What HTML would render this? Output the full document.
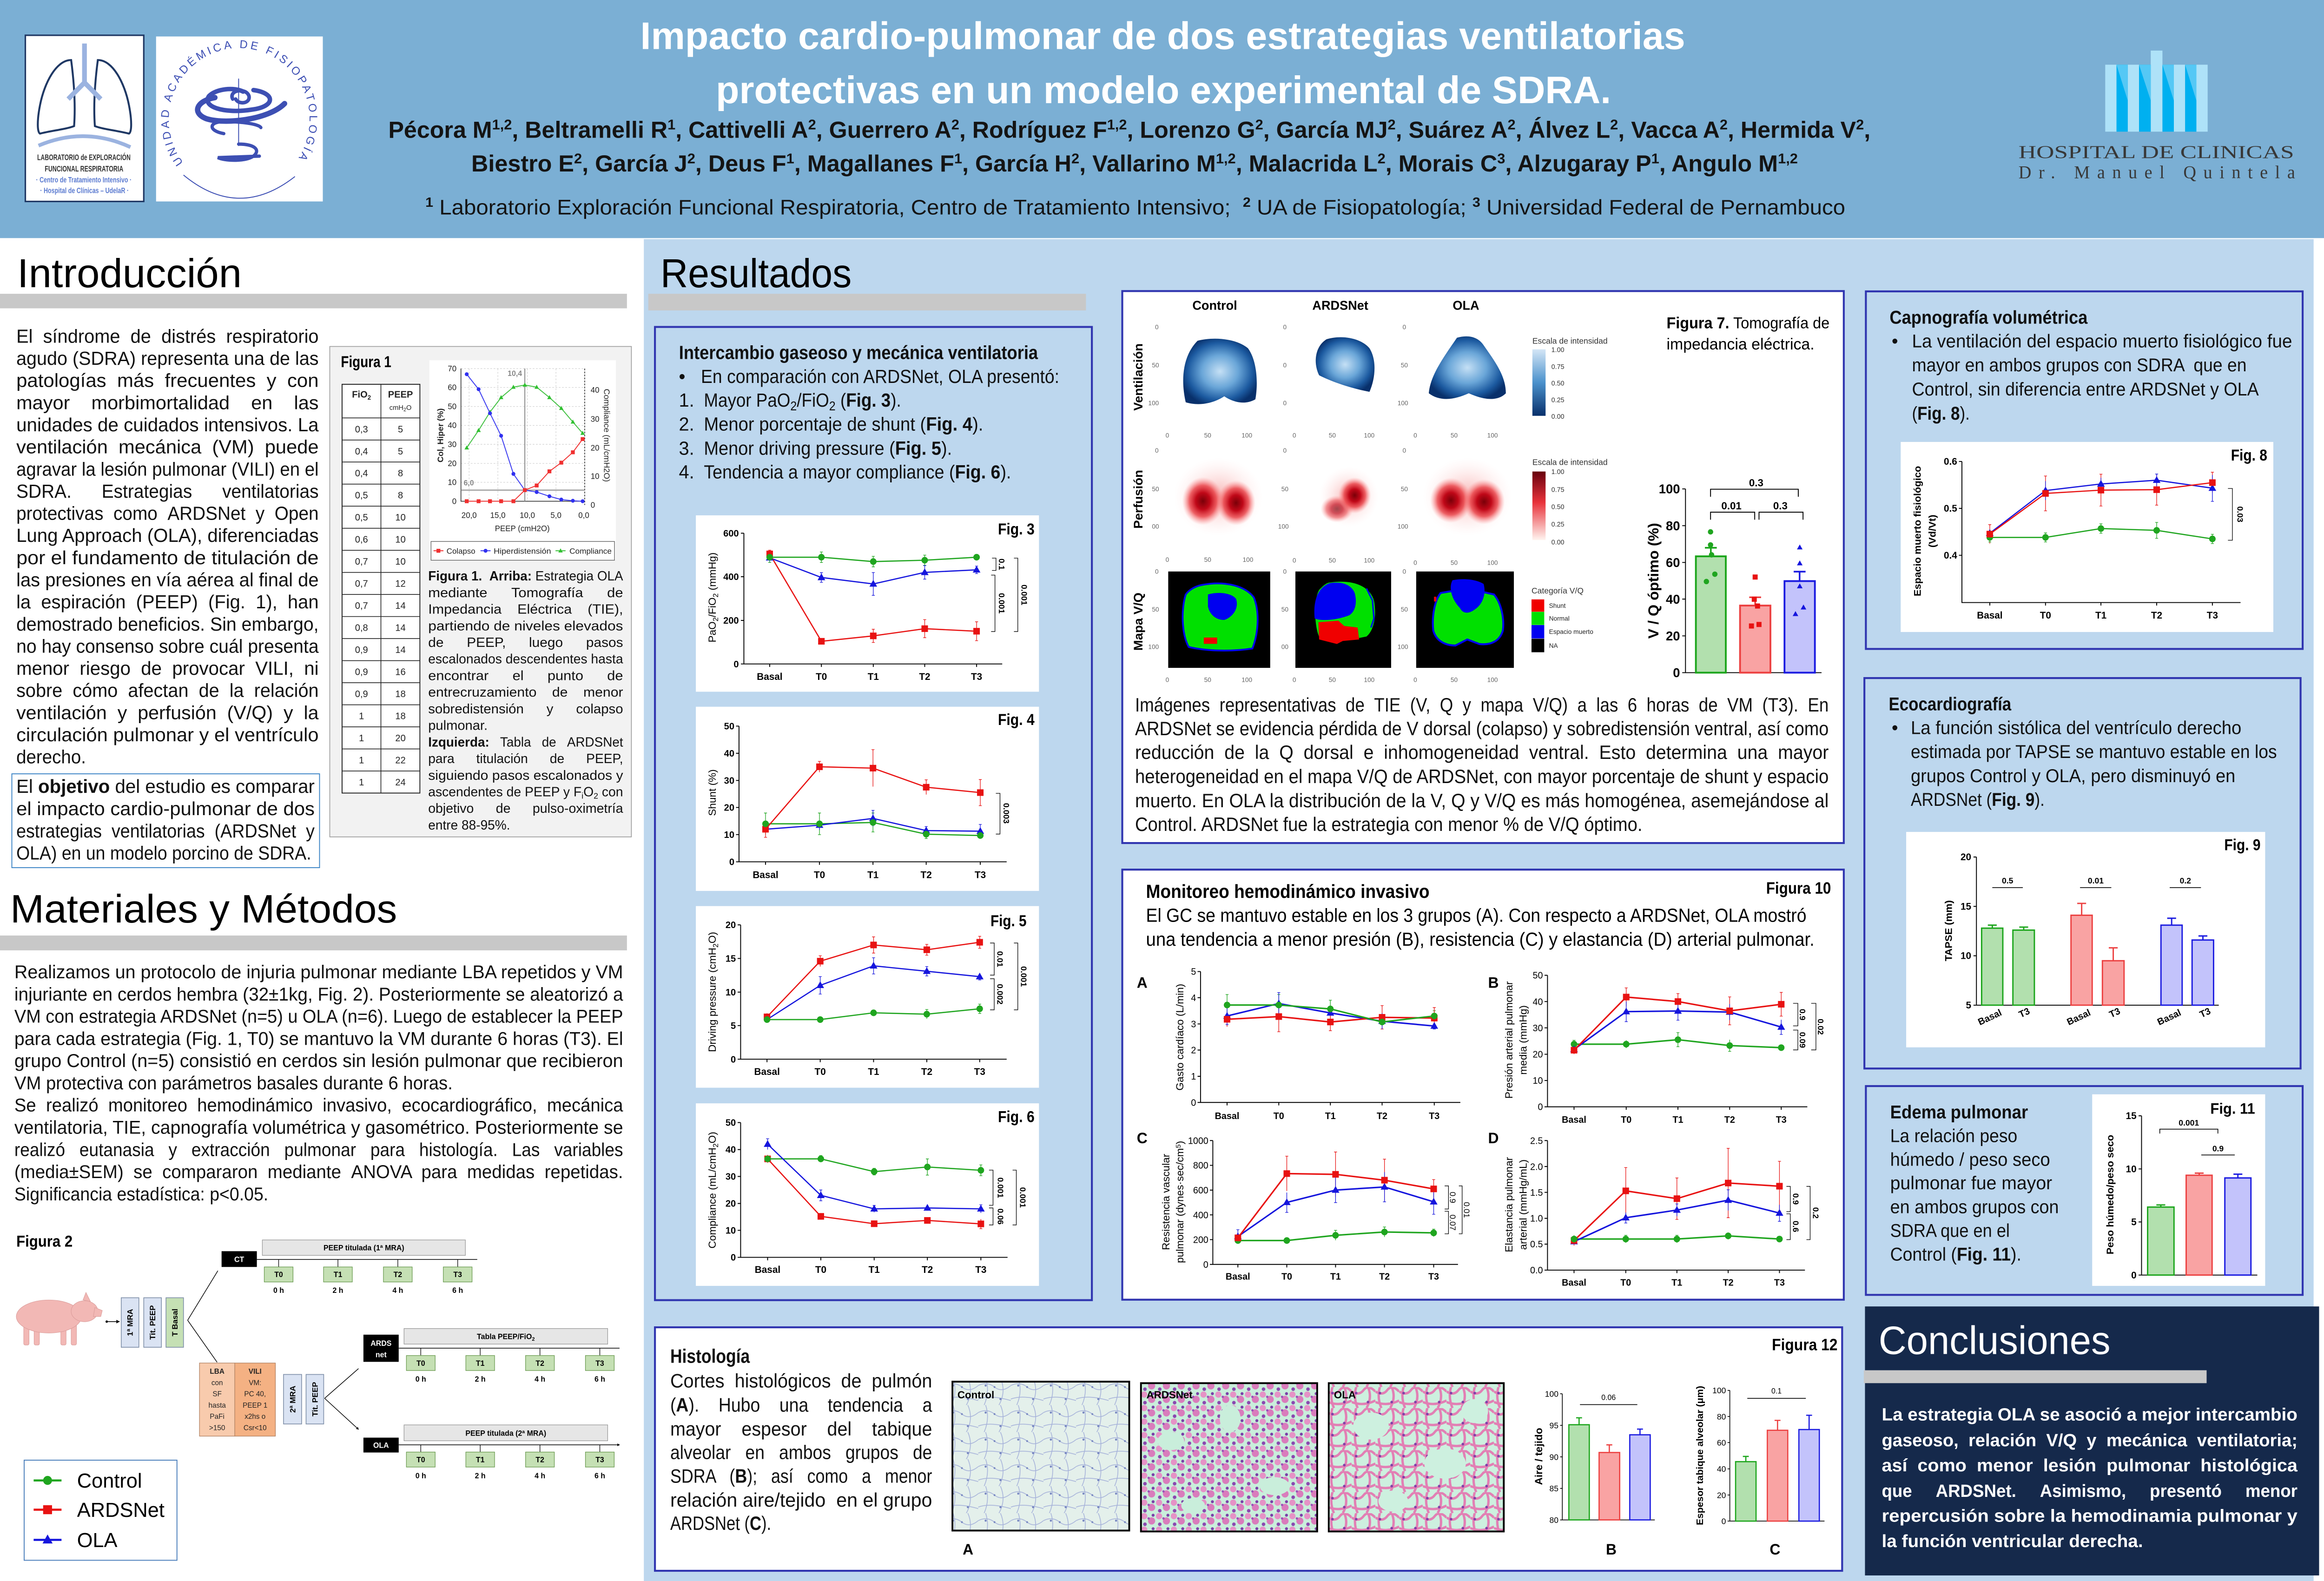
<!DOCTYPE html>
<html><head><meta charset="utf-8"><style>
html,body{margin:0;padding:0;background:#fff;overflow:hidden;}
svg{display:block;width:100vw;height:max(100vh,67.167vw);font-family:"Liberation Sans",sans-serif;}
.pre{white-space:pre;}
</style></head><body>
<svg xmlns="http://www.w3.org/2000/svg" width="5065" height="3402" viewBox="0 0 1568 1053.2" preserveAspectRatio="none" font-family="Liberation Sans, sans-serif">
<defs>
<circle id="g" r="2.2" fill="#1fa51f"/>
<rect id="r" x="-2.2" y="-2.2" width="4.4" height="4.4" fill="#e81212"/>
<path id="u" d="M0,-2.7L2.6,1.8H-2.6Z" fill="#1515dd"/>
<circle id="gs" r="1.3" fill="#30c030"/>
<rect id="rs" x="-1.3" y="-1.3" width="2.6" height="2.6" fill="#f03030"/>
<circle id="us" r="1.3" fill="#3030f0"/>
<path id="gt" d="M0,-1.6L1.5,1.1H-1.5Z" fill="#30c030"/>
<radialGradient id="vg" cx="50%" cy="50%" r="55%"><stop offset="0" stop-color="#c5e0f5"/><stop offset=".45" stop-color="#6aa6d8"/><stop offset=".8" stop-color="#1c5aa0"/><stop offset="1" stop-color="#08306b"/></radialGradient>
<radialGradient id="pg"><stop offset="0" stop-color="#7a0008"/><stop offset=".35" stop-color="#c00818"/><stop offset=".65" stop-color="#e83a40" stop-opacity=".8"/><stop offset="1" stop-color="#ff9090" stop-opacity="0"/></radialGradient>
<radialGradient id="ph"><stop offset="0" stop-color="#f49a9a" stop-opacity=".8"/><stop offset="1" stop-color="#ffe0e0" stop-opacity="0"/></radialGradient>
<linearGradient id="cb1" x1="0" y1="0" x2="0" y2="1"><stop offset="0" stop-color="#d4e6f6"/><stop offset=".5" stop-color="#4a91cc"/><stop offset="1" stop-color="#08306b"/></linearGradient>
<linearGradient id="cb2" x1="0" y1="0" x2="0" y2="1"><stop offset="0" stop-color="#67000d"/><stop offset=".45" stop-color="#e8323a"/><stop offset="1" stop-color="#fff5f0"/></linearGradient>
<pattern id="pc" width="22" height="18" patternUnits="userSpaceOnUse"><rect width="22" height="18" fill="#e4f0eb"/><path d="M0,5Q6,2 11,6T22,5M5,0Q8,9 4,18M15,0Q19,9 14,18M0,14Q8,11 22,15" stroke="#a7b3da" stroke-width=".5" fill="none"/><circle cx="5" cy="5" r=".7" fill="#7585c0"/><circle cx="15" cy="14" r=".7" fill="#7585c0"/><circle cx="11" cy="6" r=".6" fill="#7585c0"/></pattern>
<pattern id="pa" width="10" height="9" patternUnits="userSpaceOnUse"><rect width="10" height="9" fill="#c9eedb"/><circle cx="2" cy="2" r="2.1" fill="#e592c6"/><circle cx="7" cy="5.2" r="2.4" fill="#d97cbc"/><circle cx="2.5" cy="7.4" r="1.2" fill="#8a48b0"/><circle cx="8" cy="1.4" r="1" fill="#7a3fa8"/><circle cx="5" cy="3.5" r=".8" fill="#9a50b8"/></pattern>
<pattern id="po" width="16" height="14" patternUnits="userSpaceOnUse"><rect width="16" height="14" fill="#cdf0df"/><path d="M0,3Q5,6 8,2T16,3M3,0Q1,7 4,14M11,0Q14,7 10,14M0,10Q8,13 16,9" stroke="#e27fb4" stroke-width="1.6" fill="none"/><circle cx="3" cy="4" r=".9" fill="#8040a8"/><circle cx="11" cy="10" r=".9" fill="#8040a8"/></pattern>
<marker id="ah" viewBox="0 0 6 6" refX="5" refY="3" markerWidth="4" markerHeight="4" orient="auto"><path d="M0,0L6,3L0,6Z" fill="#000"/></marker>
</defs>

<!-- ================= HEADER ================= -->
<rect x="0" y="0" width="1568" height="158.6" fill="#7bafd4"/>
<rect x="17.1" y="23.5" width="79.9" height="110.7" fill="#fff" stroke="#1f3864" stroke-width="1"/>
<path d="M48,40C38,40 30,55 27,70C25,80 25,88 27,89C35,87 45,86 50,84C51,70 50,55 48,40Z" fill="none" stroke="#1f3864" stroke-width="1.3"/>
<path d="M66,40C76,40 84,55 87,70C89,80 89,88 87,89C79,87 69,86 64,84C63,70 64,55 66,40Z" fill="none" stroke="#1f3864" stroke-width="1.3"/>
<path d="M57,29V55M57,55L46,66M57,55L68,66" stroke="#9bb3e0" stroke-width="3.2" fill="none"/>
<path d="M26,97Q57,84 88,98" stroke="#9bb3e0" stroke-width="2.5" fill="none"/>
<text x="25.1" y="106.6" font-size="5.4" font-weight="bold" fill="#333" textLength="63" lengthAdjust="spacingAndGlyphs">LABORATORIO de EXPLORACIÓN</text>
<text x="30.2" y="114.3" font-size="5.4" font-weight="bold" fill="#333" textLength="53" lengthAdjust="spacingAndGlyphs">FUNCIONAL RESPIRATORIA</text>
<text x="24.3" y="121.5" font-size="5" font-weight="bold" fill="#5a7ad0" textLength="64.5" lengthAdjust="spacingAndGlyphs">· Centro de Tratamiento Intensivo ·</text>
<text x="27.1" y="128.7" font-size="5" font-weight="bold" fill="#5a7ad0" textLength="59.8" lengthAdjust="spacingAndGlyphs">· Hospital de Clínicas – UdelaR ·</text>
<rect x="105.3" y="24.3" width="112.5" height="109.9" fill="#fff"/>
<path id="arc" d="M123.7,108.4A47.5,47.5 0 1 1 199.1,108.4" fill="none"/>
<text font-size="7.5" fill="#3b4db3" letter-spacing="1.7"><textPath href="#arc">UNIDAD ACADÉMICA DE FISIOPATOLOGÍA</textPath></text>
<path d="M123.8,116.6Q161,147 199,117.6" stroke="#3b4db3" stroke-width=".6" fill="none"/>
<g stroke="#3d4fb3" fill="none" stroke-linecap="round">
<path d="M161,52.6V97" stroke-width=".6"/>
<path d="M157,66C154,60 166,58 168,64C169,69 161,70 159,66" stroke-width="2.4"/>
<path d="M171,60C186,62 186,71 170,73C151,76 136,71 141,64C146,59 158,58 164,61" stroke-width="3"/>
<path d="M192,69C181,80 151,83 139,79C129,75 133,67 145,65" stroke-width="3.6"/>
<path d="M151,89C140,87 141,81 151,81C165,81 175,83 176,85" stroke-width="2.2"/>
<path d="M161,96C172,96 176,100 171,104C165,108 151,107 147,105L175,104" stroke-width="2.2"/>
</g>
<text x="432" y="32.6" font-size="25.5" font-weight="bold" fill="#fff" textLength="705" lengthAdjust="spacingAndGlyphs">Impacto cardio-pulmonar de dos estrategias ventilatorias</text>
<text x="483" y="68.7" font-size="25.5" font-weight="bold" fill="#fff" textLength="604" lengthAdjust="spacingAndGlyphs">protectivas en un modelo experimental de SDRA.</text>
<text x="262" y="91.8" font-size="15.5" font-weight="bold" fill="#141414" textLength="1000" lengthAdjust="spacingAndGlyphs">Pécora M<tspan dy="-5.5" font-size="9.5">1,2</tspan><tspan dy="5.5">, Beltramelli R</tspan><tspan dy="-5.5" font-size="9.5">1</tspan><tspan dy="5.5">, Cattivelli A</tspan><tspan dy="-5.5" font-size="9.5">2</tspan><tspan dy="5.5">, Guerrero A</tspan><tspan dy="-5.5" font-size="9.5">2</tspan><tspan dy="5.5">, Rodríguez F</tspan><tspan dy="-5.5" font-size="9.5">1,2</tspan><tspan dy="5.5">, Lorenzo G</tspan><tspan dy="-5.5" font-size="9.5">2</tspan><tspan dy="5.5">, García MJ</tspan><tspan dy="-5.5" font-size="9.5">2</tspan><tspan dy="5.5">, Suárez A</tspan><tspan dy="-5.5" font-size="9.5">2</tspan><tspan dy="5.5">, Álvez L</tspan><tspan dy="-5.5" font-size="9.5">2</tspan><tspan dy="5.5">, Vacca A</tspan><tspan dy="-5.5" font-size="9.5">2</tspan><tspan dy="5.5">, Hermida V</tspan><tspan dy="-5.5" font-size="9.5">2</tspan><tspan dy="5.5">,</tspan></text>
<text x="318" y="114.3" font-size="15.5" font-weight="bold" fill="#141414" textLength="895" lengthAdjust="spacingAndGlyphs">Biestro E<tspan dy="-5.5" font-size="9.5">2</tspan><tspan dy="5.5">, García J</tspan><tspan dy="-5.5" font-size="9.5">2</tspan><tspan dy="5.5">, Deus F</tspan><tspan dy="-5.5" font-size="9.5">1</tspan><tspan dy="5.5">, Magallanes F</tspan><tspan dy="-5.5" font-size="9.5">1</tspan><tspan dy="5.5">, García H</tspan><tspan dy="-5.5" font-size="9.5">2</tspan><tspan dy="5.5">, Vallarino M</tspan><tspan dy="-5.5" font-size="9.5">1,2</tspan><tspan dy="5.5">, Malacrida L</tspan><tspan dy="-5.5" font-size="9.5">2</tspan><tspan dy="5.5">, Morais C</tspan><tspan dy="-5.5" font-size="9.5">3</tspan><tspan dy="5.5">, Alzugaray P</tspan><tspan dy="-5.5" font-size="9.5">1</tspan><tspan dy="5.5">, Angulo M</tspan><tspan dy="-5.5" font-size="9.5">1,2</tspan></text>
<text x="287" y="142.8" font-size="14" fill="#141414" textLength="958" lengthAdjust="spacingAndGlyphs"><tspan dy="-5" font-size="9" font-weight="bold">1</tspan><tspan dy="5"> Laboratorio Exploración Funcional Respiratoria, Centro de Tratamiento Intensivo; &#160;</tspan><tspan dy="-5" font-size="9" font-weight="bold">2</tspan><tspan dy="5"> UA de Fisiopatología; </tspan><tspan dy="-5" font-size="9" font-weight="bold">3</tspan><tspan dy="5"> Universidad Federal de Pernambuco</tspan></text>
<g>
<rect x="1451.1" y="33.7" width="7.9" height="54" fill="#aee2f8"/>
<rect x="1420.4" y="43.1" width="7.6" height="44.6" fill="#aee2f8"/>
<rect x="1435.6" y="43.1" width="7.6" height="44.6" fill="#aee2f8"/>
<rect x="1466.7" y="43.1" width="7.6" height="44.6" fill="#aee2f8"/>
<rect x="1481.9" y="43.1" width="7.6" height="44.6" fill="#aee2f8"/>
<rect x="1428" y="43.1" width="7.6" height="44.6" fill="#00b0f0"/>
<rect x="1443.2" y="43.1" width="7.9" height="44.6" fill="#00b0f0"/>
<rect x="1459" y="43.1" width="7.7" height="44.6" fill="#00b0f0"/>
<rect x="1474.3" y="43.1" width="7.6" height="44.6" fill="#00b0f0"/>
<path d="M1428,43.1H1435.6V67ZM1443.2,43.1H1451.1V67ZM1459,43.1H1466.7V67ZM1474.3,43.1H1481.9V67Z" fill="#55c8f5"/>
</g>
<text x="1361.9" y="105.3" font-family="Liberation Serif, serif" font-size="12" fill="#383838" textLength="185.9" lengthAdjust="spacingAndGlyphs">HOSPITAL DE CLINICAS</text>
<text x="1361.9" y="118.7" font-family="Liberation Serif, serif" font-size="12" fill="#383838" textLength="186.6" lengthAdjust="spacing">Dr. Manuel Quintela</text>

<!-- ================= BODY BACKGROUNDS ================= -->
<rect x="434.4" y="159.3" width="1126.6" height="894" fill="#bdd7ee"/>

<!-- ================= LEFT COLUMN ================= -->
<text x="11.6" y="191.3" font-size="27" textLength="151.5" lengthAdjust="spacingAndGlyphs">Introducción</text>
<rect x="0" y="195.7" width="423" height="9.7" fill="#c8c8c8"/>
<g font-size="12.6" fill="#111">
<text x="11" y="228.3" textLength="204" lengthAdjust="spacingAndGlyphs">El &#160;síndrome &#160;de &#160;distrés &#160;respiratorio</text>
<text x="11" y="243.05" textLength="204" lengthAdjust="spacingAndGlyphs">agudo (SDRA) representa una de las</text>
<text x="11" y="257.8" textLength="204" lengthAdjust="spacingAndGlyphs">patologías &#160;más &#160;frecuentes &#160;y &#160;con</text>
<text x="11" y="272.55" textLength="204" lengthAdjust="spacingAndGlyphs">mayor &#160;&#160;&#160;morbimortalidad &#160;&#160;&#160;en &#160;&#160;&#160;las</text>
<text x="11" y="287.3" textLength="204" lengthAdjust="spacingAndGlyphs">unidades de cuidados intensivos. La</text>
<text x="11" y="302.05" textLength="204" lengthAdjust="spacingAndGlyphs">ventilación &#160;mecánica &#160;(VM) &#160;puede</text>
<text x="11" y="316.8" textLength="204" lengthAdjust="spacingAndGlyphs">agravar la lesión pulmonar (VILI) en el</text>
<text x="11" y="331.55" textLength="204" lengthAdjust="spacingAndGlyphs">SDRA. &#160;&#160;&#160;&#160;&#160;Estrategias &#160;&#160;&#160;&#160;&#160;ventilatorias</text>
<text x="11" y="346.3" textLength="204" lengthAdjust="spacingAndGlyphs">protectivas &#160;como &#160;ARDSNet &#160;y &#160;Open</text>
<text x="11" y="361.05" textLength="204" lengthAdjust="spacingAndGlyphs">Lung Approach (OLA), diferenciadas</text>
<text x="11" y="375.8" textLength="204" lengthAdjust="spacingAndGlyphs">por el fundamento de titulación de</text>
<text x="11" y="390.55" textLength="204" lengthAdjust="spacingAndGlyphs">las presiones en vía aérea al final de</text>
<text x="11" y="405.3" textLength="204" lengthAdjust="spacingAndGlyphs">la &#160;espiración &#160;(PEEP) &#160;(Fig. &#160;1), &#160;han</text>
<text x="11" y="420.05" textLength="204" lengthAdjust="spacingAndGlyphs">demostrado beneficios. Sin embargo,</text>
<text x="11" y="434.8" textLength="204" lengthAdjust="spacingAndGlyphs">no hay consenso sobre cuál presenta</text>
<text x="11" y="449.55" textLength="204" lengthAdjust="spacingAndGlyphs">menor &#160;riesgo &#160;de &#160;provocar &#160;VILI, &#160;ni</text>
<text x="11" y="464.3" textLength="204" lengthAdjust="spacingAndGlyphs">sobre &#160;cómo &#160;afectan &#160;de &#160;la &#160;relación</text>
<text x="11" y="479.05" textLength="204" lengthAdjust="spacingAndGlyphs">ventilación &#160;y &#160;perfusión &#160;(V/Q) &#160;y &#160;la</text>
<text x="11" y="493.8" textLength="204" lengthAdjust="spacingAndGlyphs">circulación pulmonar y el ventrículo</text>
<text x="11" y="508.55" textLength="47" lengthAdjust="spacingAndGlyphs">derecho.</text>
</g>
<rect x="8" y="515.5" width="207.6" height="62.5" fill="none" stroke="#3d85c6" stroke-width=".6"/>
<g font-size="12.6" fill="#111">
<text x="11" y="528.1" textLength="201.3" lengthAdjust="spacingAndGlyphs">El <tspan font-weight="bold">objetivo</tspan> del estudio es comparar</text>
<text x="11" y="543" textLength="201.3" lengthAdjust="spacingAndGlyphs">el impacto cardio-pulmonar de dos</text>
<text x="11" y="557.9" textLength="201.3" lengthAdjust="spacingAndGlyphs">estrategias &#160;ventilatorias &#160;(ARDSNet &#160;y</text>
<text x="11" y="572.6" textLength="199" lengthAdjust="spacingAndGlyphs">OLA) en un modelo porcino de SDRA.</text>
</g>

<!-- Figura 1 -->
<rect x="222.5" y="230.8" width="203.5" height="326.7" fill="#f2f2f2" stroke="#9a9a9a" stroke-width=".5"/>
<text x="230" y="244.6" font-size="10.5" font-weight="bold" textLength="34" lengthAdjust="spacingAndGlyphs">Figura 1</text>
<rect x="230.8" y="256" width="52.5" height="272.3" fill="#fff" stroke="#222" stroke-width=".6"/>
<g stroke="#222" stroke-width=".5">
<path d="M257,256V528.3"/>
<path d="M230.8,278.4H283.3M230.8,293.1H283.3M230.8,307.8H283.3M230.8,322.5H283.3M230.8,337.2H283.3M230.8,351.9H283.3M230.8,366.6H283.3M230.8,381.3H283.3M230.8,396H283.3M230.8,410.7H283.3M230.8,425.4H283.3M230.8,440.1H283.3M230.8,454.8H283.3M230.8,469.5H283.3M230.8,484.2H283.3M230.8,498.9H283.3M230.8,513.6H283.3"/>
</g>
<g font-size="6.3" text-anchor="middle" fill="#222">
<text x="243.9" y="264.8" font-weight="bold">FiO<tspan dy="1.5" font-size="4.2">2</tspan></text>
<text x="270.2" y="264.8" font-weight="bold">PEEP</text>
<text x="270.2" y="273" font-size="4.6">cmH<tspan dy="1" font-size="3.4">2</tspan><tspan dy="-1">O</tspan></text>
<text x="243.9" y="288">0,3</text><text x="270.2" y="288">5</text>
<text x="243.9" y="302.7">0,4</text><text x="270.2" y="302.7">5</text>
<text x="243.9" y="317.4">0,4</text><text x="270.2" y="317.4">8</text>
<text x="243.9" y="332.1">0,5</text><text x="270.2" y="332.1">8</text>
<text x="243.9" y="346.8">0,5</text><text x="270.2" y="346.8">10</text>
<text x="243.9" y="361.5">0,6</text><text x="270.2" y="361.5">10</text>
<text x="243.9" y="376.2">0,7</text><text x="270.2" y="376.2">10</text>
<text x="243.9" y="390.9">0,7</text><text x="270.2" y="390.9">12</text>
<text x="243.9" y="405.6">0,7</text><text x="270.2" y="405.6">14</text>
<text x="243.9" y="420.3">0,8</text><text x="270.2" y="420.3">14</text>
<text x="243.9" y="435">0,9</text><text x="270.2" y="435">14</text>
<text x="243.9" y="449.7">0,9</text><text x="270.2" y="449.7">16</text>
<text x="243.9" y="464.4">0,9</text><text x="270.2" y="464.4">18</text>
<text x="243.9" y="479.1">1</text><text x="270.2" y="479.1">18</text>
<text x="243.9" y="493.8">1</text><text x="270.2" y="493.8">20</text>
<text x="243.9" y="508.5">1</text><text x="270.2" y="508.5">22</text>
<text x="243.9" y="523.2">1</text><text x="270.2" y="523.2">24</text>
</g>
<rect x="289.7" y="240" width="125.8" height="133" fill="#fff"/>
<g stroke="#cfcfcf" stroke-width=".35" stroke-dasharray="1.2,1">
<path d="M311,245.5H394.5M311,258.1H394.5M311,270.8H394.5M311,283.4H394.5M311,296H394.5M311,308.7H394.5M311,321.3H394.5"/>
<path d="M316.5,245.5V333.9M335.9,245.5V333.9M355.8,245.5V333.9M375.1,245.5V333.9"/>
</g>
<path d="M311,245.5V333.9H394.5" stroke="#333" stroke-width=".5" fill="none"/>
<path d="M394.5,245.5V336.4" stroke="#333" stroke-width=".5" stroke-dasharray="1.2,.8" fill="none"/>
<path d="M354.1,245.5V333.9M311,326.5H394.5" stroke="#888" stroke-width=".6" fill="none"/>
<polyline points="314.9,298.3 322.9,286.7 330.6,274.5 338.1,264.8 346.4,257.9 354.1,256.5 362.1,257.9 370.7,264.8 378.7,272 386.5,281.1 393.1,288.6" fill="none" stroke="#40c040" stroke-width=".6"/>
<polyline points="314.9,249.3 322.9,259.3 330.6,275.3 338.1,290.3 346.4,315.7 354.1,326.5 362.1,327.8 370.7,330.6 378.7,332.8 386.5,333.6 393.1,333.9" fill="none" stroke="#3a3af0" stroke-width=".6"/>
<polyline points="314.9,333.9 322.9,333.9 330.6,333.9 338.1,333.9 346.4,333.9 354.1,326.5 362.1,323.4 370.7,314 378.7,308.2 386.5,301.3 393.1,292.5" fill="none" stroke="#f03030" stroke-width=".6"/>
<g>
<use href="#gt" x="314.9" y="298.3"/><use href="#gt" x="322.9" y="286.7"/><use href="#gt" x="330.6" y="274.5"/><use href="#gt" x="338.1" y="264.8"/><use href="#gt" x="346.4" y="257.9"/><use href="#gt" x="354.1" y="256.5"/><use href="#gt" x="362.1" y="257.9"/><use href="#gt" x="370.7" y="264.8"/><use href="#gt" x="378.7" y="272"/><use href="#gt" x="386.5" y="281.1"/><use href="#gt" x="393.1" y="288.6"/>
<use href="#us" x="314.9" y="249.3"/><use href="#us" x="322.9" y="259.3"/><use href="#us" x="330.6" y="275.3"/><use href="#us" x="338.1" y="290.3"/><use href="#us" x="346.4" y="315.7"/><use href="#us" x="354.1" y="326.5"/><use href="#us" x="362.1" y="327.8"/><use href="#us" x="370.7" y="330.6"/><use href="#us" x="378.7" y="332.8"/><use href="#us" x="386.5" y="333.6"/><use href="#us" x="393.1" y="333.9"/>
<use href="#rs" x="314.9" y="333.9"/><use href="#rs" x="322.9" y="333.9"/><use href="#rs" x="330.6" y="333.9"/><use href="#rs" x="338.1" y="333.9"/><use href="#rs" x="346.4" y="333.9"/><use href="#rs" x="354.1" y="326.5"/><use href="#rs" x="362.1" y="323.4"/><use href="#rs" x="370.7" y="314"/><use href="#rs" x="378.7" y="308.2"/><use href="#rs" x="386.5" y="301.3"/><use href="#rs" x="393.1" y="292.5"/>
</g>
<g font-size="5.3" fill="#222">
<g text-anchor="end"><text x="308" y="247.3">70</text><text x="308" y="259.9">60</text><text x="308" y="272.6">50</text><text x="308" y="285.2">40</text><text x="308" y="297.8">30</text><text x="308" y="310.5">20</text><text x="308" y="323.1">10</text><text x="308" y="335.7">0</text></g>
<text x="398.5" y="261.6">40</text><text x="398.5" y="281">30</text><text x="398.5" y="300.1">20</text><text x="398.5" y="319.1">10</text><text x="398.5" y="338.2">0</text>
<g text-anchor="middle"><text x="316.5" y="345">20,0</text><text x="335.9" y="345">15,0</text><text x="355.8" y="345">10,0</text><text x="375.1" y="345">5,0</text><text x="393.9" y="345">0,0</text>
<text x="352.4" y="353.8">PEEP (cmH2O)</text></g>
<text x="342.5" y="250.5" fill="#888" font-weight="bold" font-size="5">10,4</text>
<text x="312.8" y="323.4" fill="#888" font-weight="bold" font-size="5">6,0</text>
<text transform="translate(299,290) rotate(-90)" text-anchor="middle" font-size="5.5" font-weight="bold">Col, Hiper (%)</text>
<text transform="translate(407.5,290) rotate(90)" text-anchor="middle" font-size="5.5">Compliance (mL/cmH2O)</text>
</g>
<rect x="290.8" y="360.7" width="123.8" height="12.5" fill="#fff" stroke="#555" stroke-width=".4"/>
<path d="M292.5,366.9H299.2" stroke="#f03030" stroke-width=".6"/><use href="#rs" x="295.8" y="366.9"/>
<path d="M324.2,366.9H331" stroke="#3a3af0" stroke-width=".6"/><use href="#us" x="327.6" y="366.9"/>
<path d="M374.8,366.9H381.6" stroke="#40c040" stroke-width=".6"/><use href="#gt" x="378.2" y="366.9"/>
<g font-size="5.2" fill="#222"><text x="301.3" y="368.8" textLength="19.4" lengthAdjust="spacingAndGlyphs">Colapso</text><text x="333.1" y="368.8" textLength="38.7" lengthAdjust="spacingAndGlyphs">Hiperdistensión</text><text x="384.2" y="368.8" textLength="28.5" lengthAdjust="spacingAndGlyphs">Compliance</text></g>
<g font-size="8.8" fill="#111">
<text x="288.9" y="386.7" textLength="131.5" lengthAdjust="spacingAndGlyphs"><tspan font-weight="bold">Figura 1.</tspan> &#160;<tspan font-weight="bold">Arriba:</tspan> Estrategia OLA</text>
<text x="288.9" y="397.76" textLength="131.5" lengthAdjust="spacingAndGlyphs">mediante &#160;&#160;&#160;&#160;&#160;Tomografía &#160;&#160;&#160;&#160;&#160;de</text>
<text x="288.9" y="408.82" textLength="131.5" lengthAdjust="spacingAndGlyphs">Impedancia &#160;&#160;&#160;Eléctrica &#160;&#160;&#160;(TIE),</text>
<text x="288.9" y="419.88" textLength="131.5" lengthAdjust="spacingAndGlyphs">partiendo de niveles elevados</text>
<text x="288.9" y="430.94" textLength="131.5" lengthAdjust="spacingAndGlyphs">de &#160;&#160;&#160;&#160;&#160;PEEP, &#160;&#160;&#160;&#160;&#160;luego &#160;&#160;&#160;&#160;&#160;pasos</text>
<text x="288.9" y="442" textLength="131.5" lengthAdjust="spacingAndGlyphs">escalonados descendentes hasta</text>
<text x="288.9" y="453.06" textLength="131.5" lengthAdjust="spacingAndGlyphs">encontrar &#160;&#160;&#160;&#160;&#160;el &#160;&#160;&#160;&#160;&#160;punto &#160;&#160;&#160;&#160;&#160;de</text>
<text x="288.9" y="464.12" textLength="131.5" lengthAdjust="spacingAndGlyphs">entrecruzamiento &#160;&#160;&#160;de &#160;&#160;&#160;menor</text>
<text x="288.9" y="475.18" textLength="131.5" lengthAdjust="spacingAndGlyphs">sobredistensión &#160;&#160;&#160;&#160;&#160;y &#160;&#160;&#160;&#160;&#160;colapso</text>
<text x="288.9" y="486.24" textLength="40.1" lengthAdjust="spacingAndGlyphs">pulmonar.</text>
<text x="288.9" y="497.3" textLength="131.5" lengthAdjust="spacingAndGlyphs"><tspan font-weight="bold">Izquierda:</tspan> &#160;&#160;Tabla &#160;&#160;de &#160;&#160;ARDSNet</text>
<text x="288.9" y="508.36" textLength="131.5" lengthAdjust="spacingAndGlyphs">para &#160;&#160;&#160;&#160;&#160;titulación &#160;&#160;&#160;&#160;&#160;de &#160;&#160;&#160;&#160;&#160;PEEP,</text>
<text x="288.9" y="519.42" textLength="131.5" lengthAdjust="spacingAndGlyphs">siguiendo pasos escalonados y</text>
<text x="288.9" y="530.48" textLength="131.5" lengthAdjust="spacingAndGlyphs">ascendentes de PEEP y F<tspan dy="1.5" font-size="5.5">i</tspan><tspan dy="-1.5">O</tspan><tspan dy="1.5" font-size="5.5">2</tspan><tspan dy="-1.5"> con</tspan></text>
<text x="288.9" y="541.54" textLength="131.5" lengthAdjust="spacingAndGlyphs">objetivo &#160;&#160;&#160;&#160;&#160;de &#160;&#160;&#160;&#160;&#160;pulso-oximetría</text>
<text x="288.9" y="552.6" textLength="55.3" lengthAdjust="spacingAndGlyphs">entre 88-95%.</text>
</g>

<text x="6.9" y="614.5" font-size="26.5" textLength="261" lengthAdjust="spacingAndGlyphs">Materiales y Métodos</text>
<rect x="0" y="623.2" width="423" height="9.9" fill="#c8c8c8"/>
<g font-size="12.4" fill="#111">
<text x="9.7" y="651.7" textLength="410.7" lengthAdjust="spacingAndGlyphs">Realizamos un protocolo de injuria pulmonar mediante LBA repetidos y VM</text>
<text x="9.7" y="666.49" textLength="410.7" lengthAdjust="spacingAndGlyphs">injuriante en cerdos hembra (32±1kg, Fig. 2). Posteriormente se aleatorizó a</text>
<text x="9.7" y="681.28" textLength="410.7" lengthAdjust="spacingAndGlyphs">VM con estrategia ARDSNet (n=5) u OLA (n=6). Luego de establecer la PEEP</text>
<text x="9.7" y="696.07" textLength="410.7" lengthAdjust="spacingAndGlyphs">para cada estrategia (Fig. 1, T0) se mantuvo la VM durante 6 horas (T3). El</text>
<text x="9.7" y="710.86" textLength="410.7" lengthAdjust="spacingAndGlyphs">grupo Control (n=5) consistió en cerdos sin lesión pulmonar que recibieron</text>
<text x="9.7" y="725.65" textLength="295.7" lengthAdjust="spacingAndGlyphs">VM protectiva con parámetros basales durante 6 horas.</text>
<text x="9.7" y="740.44" textLength="410.7" lengthAdjust="spacingAndGlyphs">Se &#160;realizó &#160;monitoreo &#160;hemodinámico &#160;invasivo, &#160;ecocardiográfico, &#160;mecánica</text>
<text x="9.7" y="755.23" textLength="410.7" lengthAdjust="spacingAndGlyphs">ventilatoria, TIE, capnografía volumétrica y gasométrico. Posteriormente se</text>
<text x="9.7" y="770.02" textLength="410.7" lengthAdjust="spacingAndGlyphs">realizó &#160;&#160;eutanasia &#160;&#160;y &#160;&#160;extracción &#160;&#160;pulmonar &#160;&#160;para &#160;&#160;histología. &#160;&#160;Las &#160;&#160;variables</text>
<text x="9.7" y="784.81" textLength="410.7" lengthAdjust="spacingAndGlyphs">(media±SEM) &#160;se &#160;compararon &#160;mediante &#160;ANOVA &#160;para &#160;medidas &#160;repetidas.</text>
<text x="9.7" y="799.6" textLength="171.3" lengthAdjust="spacingAndGlyphs">Significancia estadística: p&lt;0.05.</text>
</g>
<text x="11" y="830.5" font-size="10.5" font-weight="bold" textLength="38" lengthAdjust="spacingAndGlyphs">Figura 2</text>
<g>
<g fill="#f2b8b5" stroke="#d99a98" stroke-width=".3">
<rect x="16" y="882" width="3.6" height="14" rx="1"/><rect x="23" y="883" width="3.6" height="13" rx="1"/><rect x="41" y="883" width="3.6" height="13" rx="1"/><rect x="48" y="882" width="3.6" height="14" rx="1"/>
<ellipse cx="33" cy="877" rx="22" ry="11"/>
<ellipse cx="57" cy="873.5" rx="9" ry="7"/>
<path d="M64,871L69,873L68,877L63,877Z"/>
<path d="M56,866L58,861L61,867Z"/>
</g>
<path d="M71.3,880.4H80.7" stroke="#000" stroke-width=".5"/><circle cx="72" cy="880.4" r=".8"/><path d="M78.5,879.2L80.8,880.4L78.5,881.6Z"/>
<g stroke="#7f8fa8" stroke-width=".5"><rect x="81.8" y="864.5" width="11.9" height="33" fill="#dae3f3"/><rect x="97" y="864.5" width="11.9" height="33" fill="#dae3f3"/><rect x="112" y="864.5" width="11.8" height="33" fill="#c5e0b4"/>
<rect x="191.3" y="915.6" width="12.2" height="33" fill="#dae3f3"/><rect x="206.5" y="915.6" width="11.9" height="33" fill="#dae3f3"/></g>
<g font-size="5.2" font-weight="bold" text-anchor="middle">
<text transform="translate(89.6,881) rotate(-90)">1ª MRA</text>
<text transform="translate(104.8,881) rotate(-90)">Tit. PEEP</text>
<text transform="translate(119.8,881) rotate(-90)">T Basal</text>
<text transform="translate(199.3,932.1) rotate(-90)">2ª MRA</text>
<text transform="translate(214.3,932.1) rotate(-90)">Tit. PEEP</text>
</g>
<path d="M126.6,879.5L147,846.5M126.6,879.5L146.5,907.5M219,931.5L241.9,911.7M219,931.5L241.9,952.2" stroke="#000" stroke-width=".45" marker-end="url(#ah)" fill="none"/>
<rect x="149.5" y="833.5" width="23.8" height="10.5" fill="#000"/>
<rect x="245.2" y="889.1" width="23.8" height="18.1" fill="#000"/>
<rect x="245.2" y="957.7" width="23.8" height="9.9" fill="#000"/>
<g font-size="5" font-weight="bold" fill="#fff" text-anchor="middle"><text x="161.4" y="840.6">CT</text><text x="257.1" y="896.5">ARDS</text><text x="257.1" y="904.2">net</text><text x="257.1" y="964.5">OLA</text></g>
<g fill="#e6e6e6" stroke="#999" stroke-width=".4"><rect x="177" y="826" width="137" height="10.3"/><rect x="272.6" y="885" width="137.4" height="10.4"/><rect x="272.6" y="949.2" width="137.4" height="10.6"/></g>
<g font-size="5" font-weight="bold" text-anchor="middle"><text x="245.5" y="832.9">PEEP titulada (1ª MRA)</text><text x="341.3" y="892">Tabla PEEP/FiO<tspan dy="1.2" font-size="3.5">2</tspan></text><text x="341.3" y="956.4">PEEP titulada (2ª MRA)</text></g>
<path d="M173.3,839H322M269,898.1H418M269,962.5H418" stroke="#000" stroke-width=".45" marker-end="url(#ah)"/>
<path d="M188,839V844M228,839V844M268.4,839V844M308.8,839V844M283.9,898.1V903M324,898.1V903M364.3,898.1V903M404.7,898.1V903M283.9,962.5V967.3M324,962.5V967.3M364.3,962.5V967.3M404.7,962.5V967.3" stroke="#000" stroke-width=".4"/>
<g fill="#c5e0b4" stroke="#6a9a50" stroke-width=".4">
<rect x="178.3" y="844" width="19.4" height="10"/><rect x="218.3" y="844" width="19.4" height="10"/><rect x="258.7" y="844" width="19.4" height="10"/><rect x="299.1" y="844" width="19.4" height="10"/>
<rect x="274.2" y="903" width="19.4" height="10"/><rect x="314.3" y="903" width="19.4" height="10"/><rect x="354.6" y="903" width="19.4" height="10"/><rect x="395" y="903" width="19.4" height="10"/>
<rect x="274.2" y="967.3" width="19.4" height="10"/><rect x="314.3" y="967.3" width="19.4" height="10"/><rect x="354.6" y="967.3" width="19.4" height="10"/><rect x="395" y="967.3" width="19.4" height="10"/>
</g>
<g font-size="5" font-weight="bold" text-anchor="middle">
<text x="188" y="850.8">T0</text><text x="228" y="850.8">T1</text><text x="268.4" y="850.8">T2</text><text x="308.8" y="850.8">T3</text>
<text x="188" y="861.2">0 h</text><text x="228" y="861.2">2 h</text><text x="268.4" y="861.2">4 h</text><text x="308.8" y="861.2">6 h</text>
<text x="283.9" y="909.8">T0</text><text x="324" y="909.8">T1</text><text x="364.3" y="909.8">T2</text><text x="404.7" y="909.8">T3</text>
<text x="283.9" y="920.4">0 h</text><text x="324" y="920.4">2 h</text><text x="364.3" y="920.4">4 h</text><text x="404.7" y="920.4">6 h</text>
<text x="283.9" y="974.1">T0</text><text x="324" y="974.1">T1</text><text x="364.3" y="974.1">T2</text><text x="404.7" y="974.1">T3</text>
<text x="283.9" y="984.8">0 h</text><text x="324" y="984.8">2 h</text><text x="364.3" y="984.8">4 h</text><text x="404.7" y="984.8">6 h</text>
</g>
<rect x="134.6" y="908" width="23.8" height="48.7" fill="#f8cbad" stroke="#b08060" stroke-width=".4"/>
<rect x="158.4" y="908" width="27.4" height="48.7" fill="#f4b183" stroke="#b08060" stroke-width=".4"/>
<g font-size="4.8" text-anchor="middle" fill="#222">
<text x="146.5" y="915.2" font-weight="bold">LBA</text><text x="146.5" y="922.7">con</text><text x="146.5" y="930.2">SF</text><text x="146.5" y="937.7">hasta</text><text x="146.5" y="945.2">PaFi</text><text x="146.5" y="952.7">&gt;150</text>
<text x="172.1" y="915.2" font-weight="bold">VILI</text><text x="172.1" y="922.7">VM:</text><text x="172.1" y="930.2">PC 40,</text><text x="172.1" y="937.7">PEEP 1</text><text x="172.1" y="945.2">x2hs o</text><text x="172.1" y="952.7">Csr&lt;10</text>
</g>
</g>
<rect x="16.3" y="972.7" width="103.1" height="66.7" fill="#fff" stroke="#4a7ebb" stroke-width=".6"/>
<path d="M22.7,986.2H41.5" stroke="#1fa51f" stroke-width="1.4"/><circle cx="32.1" cy="986.2" r="3" fill="#1fa51f"/>
<path d="M22.7,1005.7H41.5" stroke="#e81212" stroke-width="1.4"/><rect x="29.1" y="1002.7" width="6" height="6" fill="#e81212"/>
<path d="M22.7,1025.8H41.5" stroke="#1515dd" stroke-width="1.4"/><path d="M32.1,1022.2L35.5,1028.2H28.7Z" fill="#1515dd"/>
<g font-size="13.6"><text x="52" y="991">Control</text><text x="52" y="1010.5" textLength="59" lengthAdjust="spacingAndGlyphs">ARDSNet</text><text x="52" y="1030.6">OLA</text></g>

<!-- ================= RESULTADOS COLUMN ================= -->
<text x="445.6" y="191.3" font-size="27" textLength="129" lengthAdjust="spacingAndGlyphs">Resultados</text>
<rect x="437.4" y="195.7" width="295.3" height="11.1" fill="#c8c8c8"/>
<rect x="441.9" y="217.8" width="294.8" height="648.3" fill="none" stroke="#3035b0" stroke-width="1.3"/>
<g font-size="12.5" fill="#111">
<text x="458.1" y="239.1" font-weight="bold" textLength="242.2" lengthAdjust="spacingAndGlyphs">Intercambio gaseoso y mecánica ventilatoria</text>
<text x="458" y="255.1">•</text>
<text x="472.9" y="255.1" textLength="241.8" lengthAdjust="spacingAndGlyphs">En comparación con ARDSNet, OLA presentó:</text>
<text x="458" y="270.9">1.</text><text x="458" y="286.9">2.</text><text x="458" y="303">3.</text><text x="458" y="318.7">4.</text>
<text x="474.9" y="270.9" textLength="133.1" lengthAdjust="spacingAndGlyphs">Mayor PaO<tspan dy="2.5" font-size="8.5">2</tspan><tspan dy="-2.5">/FiO</tspan><tspan dy="2.5" font-size="8.5">2</tspan><tspan dy="-2.5"> (</tspan><tspan font-weight="bold">Fig. 3</tspan>).</text>
<text x="474.9" y="286.9" textLength="188.5" lengthAdjust="spacingAndGlyphs">Menor porcentaje de shunt (<tspan font-weight="bold">Fig. 4</tspan>).</text>
<text x="474.9" y="303" textLength="167.4" lengthAdjust="spacingAndGlyphs">Menor driving pressure (<tspan font-weight="bold">Fig. 5</tspan>).</text>
<text x="474.9" y="318.7" textLength="207.3" lengthAdjust="spacingAndGlyphs">Tendencia a mayor compliance (<tspan font-weight="bold">Fig. 6</tspan>).</text>
</g>
<g fill="#fff"><rect x="469.5" y="343.3" width="231.5" height="117.5"/><rect x="469.5" y="470.8" width="231.5" height="122.7"/><rect x="469.5" y="603.6" width="231.5" height="121"/><rect x="469.5" y="735" width="231.5" height="121.6"/></g>
<g font-size="10.5" font-weight="bold"><text x="673.3" y="356" textLength="24.7" lengthAdjust="spacingAndGlyphs">Fig. 3</text><text x="673.3" y="482.9" textLength="24.7" lengthAdjust="spacingAndGlyphs">Fig. 4</text><text x="668.3" y="617" textLength="24.3" lengthAdjust="spacingAndGlyphs">Fig. 5</text><text x="673.3" y="747.5" textLength="24.7" lengthAdjust="spacingAndGlyphs">Fig. 6</text></g>
<!-- FIG 3 -->
<path d="M501.9,355.2V442.3H676.2M499.9,355.2H501.9M499.9,384.2H501.9M499.9,413.3H501.9M499.9,442.3H501.9M519.3,442.3V444.3M554.2,442.3V444.3M589.2,442.3V444.3M623.9,442.3V444.3M658.9,442.3V444.3" stroke="#000" stroke-width=".6" fill="none"/>
<g font-size="6.3" font-weight="bold" text-anchor="end"><text x="498.5" y="357.4">600</text><text x="498.5" y="386.4">400</text><text x="498.5" y="415.5">200</text><text x="498.5" y="444.5">0</text></g>
<g font-size="6.5" font-weight="bold" text-anchor="middle"><text x="519.3" y="453">Basal</text><text x="554.2" y="453">T0</text><text x="589.2" y="453">T1</text><text x="623.9" y="453">T2</text><text x="658.9" y="453">T3</text></g>
<text transform="translate(483,398) rotate(-90)" text-anchor="middle" font-size="7">PaO<tspan dy="1.5" font-size="5">2</tspan><tspan dy="-1.5">/FiO</tspan><tspan dy="1.5" font-size="5">2</tspan><tspan dy="-1.5"> (mmHg)</tspan></text>
<path d="M519.3,367.7V374.7M518.3,367.7h2M518.3,374.7h2M554.2,367.7V374.7M553.2,367.7h2M553.2,374.7h2M589.2,370.6V377.6M588.2,370.6h2M588.2,377.6h2M623.9,369.8V376.6M622.9,369.8h2M622.9,376.6h2" stroke="#1fa51f" stroke-width=".4" fill="none"/>
<path d="M519.3,369V374M554.2,381.5V387.9M553.2,381.5h2M553.2,387.9h2M589.2,381.4V396.6M588.2,381.4h2M588.2,396.6h2M623.9,376.8V385.8M622.9,376.8h2M622.9,385.8h2M658.9,377.1V382.1M657.9,377.1h2M657.9,382.1h2" stroke="#1515dd" stroke-width=".4" fill="none"/>
<path d="M519.3,366.5V371.5M518.3,366.5h2M554.2,426.2V428.2M589.2,419.2V428M588.2,419.2h2M588.2,428h2M623.9,412.8V424.8M622.9,412.8h2M622.9,424.8h2M658.9,414.2V426.8M657.9,414.2h2M657.9,426.8h2" stroke="#e81212" stroke-width=".4" fill="none"/>
<polyline points="519.3,371.2 554.2,371.2 589.2,374.1 623.9,373.2 658.9,371.2" fill="none" stroke="#1fa51f" stroke-width=".8"/>
<polyline points="519.3,371.6 554.2,384.7 589.2,389 623.9,381.3 658.9,379.6" fill="none" stroke="#1515dd" stroke-width=".8"/>
<polyline points="519.3,369 554.2,427.2 589.2,423.6 623.9,418.8 658.9,420.5" fill="none" stroke="#e81212" stroke-width=".8"/>
<use href="#g" x="554.2" y="371.2"/><use href="#g" x="589.2" y="374.1"/><use href="#g" x="623.9" y="373.2"/><use href="#g" x="658.9" y="371.2"/>
<use href="#u" x="519.3" y="371.6"/><use href="#u" x="554.2" y="384.7"/><use href="#u" x="589.2" y="389"/><use href="#u" x="623.9" y="381.3"/><use href="#u" x="658.9" y="379.6"/>
<use href="#r" x="519.3" y="369"/><use href="#r" x="554.2" y="427.2"/><use href="#r" x="589.2" y="423.6"/><use href="#r" x="623.9" y="418.8"/><use href="#r" x="658.9" y="420.5"/>
<use href="#g" x="519.3" y="371.2"/>
<path d="M669.3,371.8H672V380H669.3M668.7,383.1H671.3V420.7H668.7M684.1,371.8H686.7V420.7H684.1" stroke="#000" stroke-width=".4" fill="none"/>
<g font-size="5.5" font-weight="bold" text-anchor="middle"><text transform="translate(675.8,375.9) rotate(90)" dy="1.8">0.1</text><text transform="translate(675.8,401.9) rotate(90)" dy="1.8">0.001</text><text transform="translate(691,396.3) rotate(90)" dy="1.8">0.001</text></g>
<!-- FIG 4 -->
<path d="M498.6,483.7V574.1H679.2M496.6,483.7h2M496.6,501.8h2M496.6,519.9h2M496.6,537.9h2M496.6,556h2M496.6,574.1h2M516.5,574.1v2M552.9,574.1v2M589,574.1v2M624.9,574.1v2M661.4,574.1v2" stroke="#000" stroke-width=".6" fill="none"/>
<g font-size="6.3" font-weight="bold" text-anchor="end"><text x="495.5" y="485.9">50</text><text x="495.5" y="504">40</text><text x="495.5" y="522.1">30</text><text x="495.5" y="540.1">20</text><text x="495.5" y="558.2">10</text><text x="495.5" y="576.3">0</text></g>
<g font-size="6.5" font-weight="bold" text-anchor="middle"><text x="516.5" y="585">Basal</text><text x="552.9" y="585">T0</text><text x="589" y="585">T1</text><text x="624.9" y="585">T2</text><text x="661.4" y="585">T3</text></g>
<text transform="translate(483,528) rotate(-90)" text-anchor="middle" font-size="7">Shunt (%)</text>
<path d="M516.5,541.6V556M515.5,541.6h2M552.9,541.6V556M551.9,541.6h2M551.9,556h2M589,541.6V554.2M588,541.6h2M588,554.2h2M624.9,552.8V558.6M623.9,558.6h2M661.4,555V558" stroke="#1fa51f" stroke-width=".4" fill="none"/>
<path d="M552.9,546.5V552.9M589,539.8V550.6M588,539.8h2M624.9,550.6V556M623.9,550.6h2M661.4,549.2V558.2M660.4,549.2h2" stroke="#1515dd" stroke-width=".4" fill="none"/>
<path d="M516.5,547V557.8M515.5,557.8h2M552.9,507.2V514.4M551.9,507.2h2M589,499.4V524M588,499.4h2M624.9,519.5V529.3M623.9,519.5h2M661.4,519.3V536.7M660.4,519.3h2M660.4,536.7h2" stroke="#e81212" stroke-width=".4" fill="none"/>
<polyline points="516.5,548.8 552.9,548.8 589,547.9 624.9,555.7 661.4,556.6" fill="none" stroke="#1fa51f" stroke-width=".8"/>
<polyline points="516.5,552.4 552.9,549.7 589,545.2 624.9,553.3 661.4,553.7" fill="none" stroke="#1515dd" stroke-width=".8"/>
<polyline points="516.5,552.4 552.9,510.8 589,511.7 624.9,524.4 661.4,528" fill="none" stroke="#e81212" stroke-width=".8"/>
<use href="#u" x="552.9" y="549.7"/><use href="#u" x="589" y="545.2"/><use href="#u" x="624.9" y="553.3"/><use href="#u" x="661.4" y="553.7"/>
<use href="#r" x="516.5" y="552.4"/><use href="#r" x="552.9" y="510.8"/><use href="#r" x="589" y="511.7"/><use href="#r" x="624.9" y="524.4"/><use href="#r" x="661.4" y="528"/>
<use href="#g" x="516.5" y="548.8"/><use href="#g" x="552.9" y="548.8"/><use href="#g" x="589" y="547.9"/><use href="#g" x="624.9" y="555.7"/><use href="#g" x="661.4" y="556.6"/>
<path d="M671.9,528.5H674.7V555.6H671.9" stroke="#000" stroke-width=".4" fill="none"/>
<text transform="translate(678.8,541.8) rotate(90)" dy="1.8" font-size="5.5" font-weight="bold" text-anchor="middle">0.003</text>
<!-- FIG 5 -->
<path d="M499.7,616.1V705.6H679.2M497.7,616.1h2M497.7,638.5h2M497.7,660.9h2M497.7,683.2h2M497.7,705.6h2M517.5,705.6v2M553.4,705.6v2M589.4,705.6v2M625.3,705.6v2M661,705.6v2" stroke="#000" stroke-width=".6" fill="none"/>
<g font-size="6.3" font-weight="bold" text-anchor="end"><text x="496.5" y="618.3">20</text><text x="496.5" y="640.7">15</text><text x="496.5" y="663.1">10</text><text x="496.5" y="685.4">5</text><text x="496.5" y="707.8">0</text></g>
<g font-size="6.5" font-weight="bold" text-anchor="middle"><text x="517.5" y="716">Basal</text><text x="553.4" y="716">T0</text><text x="589.4" y="716">T1</text><text x="625.3" y="716">T2</text><text x="661" y="716">T3</text></g>
<text transform="translate(483,660.8) rotate(-90)" text-anchor="middle" font-size="7">Driving pressure (cmH<tspan dy="1.5" font-size="5">2</tspan><tspan dy="-1.5">O)</tspan></text>
<path d="M625.3,672.5V678.7M624.3,672.5h2M661,668.9V675.1M660,668.9h2M660,675.1h2" stroke="#1fa51f" stroke-width=".4" fill="none"/>
<path d="M553.4,650.6V662.2M552.4,650.6h2M552.4,662.2h2M589.4,638V648.8M588.4,638h2M588.4,648.8h2M625.3,643.9V650.1M624.3,643.9h2M624.3,650.1h2M661,648.4V652.8M660,652.8h2" stroke="#1515dd" stroke-width=".4" fill="none"/>
<path d="M517.5,675V679.8M553.4,636.7V643.9M552.4,636.7h2M589.4,624.1V634.9M588.4,624.1h2M588.4,634.9h2M625.3,629.1V636.3M624.3,629.1h2M624.3,636.3h2M661,623.7V631.7M660,623.7h2M660,631.7h2" stroke="#e81212" stroke-width=".4" fill="none"/>
<polyline points="517.5,679.2 553.4,679.2 589.4,674.7 625.3,675.6 661,672" fill="none" stroke="#1fa51f" stroke-width=".8"/>
<polyline points="517.5,679.2 553.4,656.4 589.4,643.4 625.3,647 661,650.6" fill="none" stroke="#1515dd" stroke-width=".8"/>
<polyline points="517.5,677.4 553.4,640.3 589.4,629.5 625.3,632.7 661,627.7" fill="none" stroke="#e81212" stroke-width=".8"/>
<use href="#r" x="517.5" y="677.4"/><use href="#r" x="553.4" y="640.3"/><use href="#r" x="589.4" y="629.5"/><use href="#r" x="625.3" y="632.7"/><use href="#r" x="661" y="627.7"/>
<use href="#u" x="553.4" y="656.4"/><use href="#u" x="589.4" y="643.4"/><use href="#u" x="625.3" y="647"/><use href="#u" x="661" y="650.6"/>
<use href="#g" x="517.5" y="679.2"/><use href="#g" x="553.4" y="679.2"/><use href="#g" x="589.4" y="674.7"/><use href="#g" x="625.3" y="675.6"/><use href="#g" x="661" y="672"/>
<path d="M668,628.2H670.8V649.6H668M668,652H670.8V672.7H668M684.1,628.2H686.7V672.7H684.1" stroke="#000" stroke-width=".4" fill="none"/>
<g font-size="5.5" font-weight="bold" text-anchor="middle"><text transform="translate(674.7,638.9) rotate(90)" dy="1.8">0.01</text><text transform="translate(674.7,662.3) rotate(90)" dy="1.8">0.002</text><text transform="translate(690.7,650.5) rotate(90)" dy="1.8">0.001</text></g>
<!-- FIG 6 -->
<path d="M499.7,747.8V837.6H679.8M497.7,747.8h2M497.7,765.8h2M497.7,783.7h2M497.7,801.7h2M497.7,819.6h2M497.7,837.6h2M517.9,837.6v2M553.8,837.6v2M589.8,837.6v2M625.7,837.6v2M661.8,837.6v2" stroke="#000" stroke-width=".6" fill="none"/>
<g font-size="6.3" font-weight="bold" text-anchor="end"><text x="496.5" y="750">50</text><text x="496.5" y="768">40</text><text x="496.5" y="785.9">30</text><text x="496.5" y="803.9">20</text><text x="496.5" y="821.8">10</text><text x="496.5" y="839.8">0</text></g>
<g font-size="6.5" font-weight="bold" text-anchor="middle"><text x="517.9" y="848">Basal</text><text x="553.8" y="848">T0</text><text x="589.8" y="848">T1</text><text x="625.7" y="848">T2</text><text x="661.8" y="848">T3</text></g>
<text transform="translate(483,792.8) rotate(-90)" text-anchor="middle" font-size="7">Compliance (mL/cmH<tspan dy="1.5" font-size="5">2</tspan><tspan dy="-1.5">O)</tspan></text>
<path d="M517.9,758.6V765.8M516.9,758.6h2M553.8,792.7V799.9M552.8,792.7h2M552.8,799.9h2M589.8,803V807.6M588.8,803h2M625.7,802.9V806.5M661.8,802.6V808M660.8,802.6h2" stroke="#1515dd" stroke-width=".4" fill="none"/>
<path d="M553.8,769.8V774.2M552.8,769.8h2M589.8,778.3V782.7M588.8,778.3h2M588.8,782.7h2M625.7,772V782.8M624.7,772h2M624.7,782.8h2M661.8,776V783.2M660.8,776h2M660.8,783.2h2" stroke="#1fa51f" stroke-width=".4" fill="none"/>
<path d="M517.9,769.3V774.7M625.7,811.4V814.6M661.8,812.1V818.5M660.8,818.5h2" stroke="#e81212" stroke-width=".4" fill="none"/>
<polyline points="517.9,772 553.8,772 589.8,780.5 625.7,777.4 661.8,779.6" fill="none" stroke="#1fa51f" stroke-width=".8"/>
<polyline points="517.9,762.2 553.8,796.3 589.8,805.3 625.7,804.7 661.8,805.3" fill="none" stroke="#1515dd" stroke-width=".8"/>
<polyline points="517.9,772 553.8,810.3 589.8,815.2 625.7,813 661.8,815.3" fill="none" stroke="#e81212" stroke-width=".8"/>
<use href="#u" x="517.9" y="762.2"/><use href="#u" x="553.8" y="796.3"/><use href="#u" x="589.8" y="805.3"/><use href="#u" x="625.7" y="804.7"/><use href="#u" x="661.8" y="805.3"/>
<use href="#r" x="517.9" y="772"/><use href="#r" x="553.8" y="810.3"/><use href="#r" x="589.8" y="815.2"/><use href="#r" x="625.7" y="813"/><use href="#r" x="661.8" y="815.3"/>
<use href="#g" x="517.9" y="772"/><use href="#g" x="553.8" y="772"/><use href="#g" x="589.8" y="780.5"/><use href="#g" x="625.7" y="777.4"/><use href="#g" x="661.8" y="779.6"/>
<path d="M667.3,779.5H670V802.9H667.3M667.3,804.7H670V816H667.3M683.2,779.5H685.7V816H683.2" stroke="#000" stroke-width=".4" fill="none"/>
<g font-size="5.5" font-weight="bold" text-anchor="middle"><text transform="translate(674.9,791.2) rotate(90)" dy="1.8">0.001</text><text transform="translate(674.9,810.4) rotate(90)" dy="1.8">0.06</text><text transform="translate(690,797.7) rotate(90)" dy="1.8">0.001</text></g>

<!-- ================= HISTOLOGIA ================= -->
<rect x="441.9" y="884.2" width="801" height="162.2" fill="#fff" stroke="#3035b0" stroke-width="1.3"/>
<g font-size="13" fill="#111">
<text x="452.2" y="907.9" font-weight="bold" textLength="53.7" lengthAdjust="spacingAndGlyphs">Histología</text>
<text x="452.2" y="924.3" textLength="176.7" lengthAdjust="spacingAndGlyphs">Cortes &#160;histológicos &#160;de &#160;pulmón</text>
<text x="452.2" y="940.3" textLength="176.7" lengthAdjust="spacingAndGlyphs">(<tspan font-weight="bold">A</tspan>). &#160;&#160;&#160;Hubo &#160;&#160;&#160;una &#160;&#160;&#160;tendencia &#160;&#160;&#160;a</text>
<text x="452.2" y="956.3" textLength="176.7" lengthAdjust="spacingAndGlyphs">mayor &#160;&#160;&#160;espesor &#160;&#160;&#160;del &#160;&#160;&#160;tabique</text>
<text x="452.2" y="972" textLength="176.7" lengthAdjust="spacingAndGlyphs">alveolar &#160;&#160;en &#160;&#160;ambos &#160;&#160;grupos &#160;&#160;de</text>
<text x="452.2" y="987.7" textLength="176.7" lengthAdjust="spacingAndGlyphs">SDRA &#160;&#160;(<tspan font-weight="bold">B</tspan>); &#160;&#160;así &#160;&#160;como &#160;&#160;a &#160;&#160;menor</text>
<text x="452.2" y="1003.7" textLength="176.7" lengthAdjust="spacingAndGlyphs">relación aire/tejido &#160;en el grupo</text>
<text x="452.2" y="1019.1" textLength="68.1" lengthAdjust="spacingAndGlyphs">ARDSNet (<tspan font-weight="bold">C</tspan>).</text>
</g>
<rect x="642.6" y="920.4" width="119.3" height="99.2" fill="url(#pc)" stroke="#000" stroke-width="1.2"/>
<rect x="769.8" y="921.4" width="118.9" height="98.8" fill="url(#pa)" stroke="#000" stroke-width="1.2"/>
<rect x="896.5" y="921.4" width="118.1" height="98.8" fill="url(#po)" stroke="#000" stroke-width="1.2"/>
<g fill="#c9eedb"><ellipse cx="790" cy="960" rx="9" ry="6"/><ellipse cx="830" cy="945" rx="7" ry="9"/><ellipse cx="860" cy="990" rx="10" ry="6"/><ellipse cx="805" cy="1003" rx="8" ry="5"/></g>
<g fill="#cdf0df"><ellipse cx="925" cy="950" rx="12" ry="9"/><ellipse cx="975" cy="975" rx="14" ry="10"/><ellipse cx="940" cy="1000" rx="10" ry="7"/><ellipse cx="995" cy="940" rx="9" ry="8"/></g>
<g font-size="7" font-weight="bold"><text x="646" y="931.5">Control</text><text x="773.5" y="931.5">ARDSNet</text><text x="900" y="931.5">OLA</text></g>
<g font-size="10" font-weight="bold"><text x="649.5" y="1035.5">A</text><text x="1083.5" y="1035.5">B</text><text x="1194" y="1035.5">C</text></g>
<text x="1195.5" y="899.5" font-size="11" font-weight="bold" textLength="44.3" lengthAdjust="spacingAndGlyphs">Figura 12</text>
<path d="M1054.1,928.5V1012.5H1116.5M1052.6,928.5h1.5M1052.6,949.5h1.5M1052.6,970.5h1.5M1052.6,991.5h1.5M1052.6,1012.5h1.5" stroke="#000" stroke-width=".5" fill="none"/>
<g font-size="5.5" text-anchor="end"><text x="1051.5" y="930.5">100</text><text x="1051.5" y="951.5">95</text><text x="1051.5" y="972.5">90</text><text x="1051.5" y="993.5">85</text><text x="1051.5" y="1014.5">80</text></g>
<rect x="1058.5" y="949.1" width="13.8" height="63.4" fill="#b2e0ae" stroke="#1ba51b" stroke-width=".8"/>
<rect x="1078.9" y="967.6" width="13.9" height="44.9" fill="#f9a3a3" stroke="#ec4040" stroke-width=".8"/>
<rect x="1099.6" y="955.8" width="13.8" height="56.7" fill="#c3c3fb" stroke="#1a1ae0" stroke-width=".8"/>
<path d="M1065.4,944.5V949.1M1063.4,944.5h4" stroke="#1ba51b" stroke-width=".8"/>
<path d="M1085.8,962.5V967.6M1083.8,962.5h4" stroke="#ec4040" stroke-width=".8"/>
<path d="M1106.5,952V955.8M1104.5,952h4" stroke="#1a1ae0" stroke-width=".8"/>
<path d="M1066,935.7H1104.7" stroke="#000" stroke-width=".5"/>
<text x="1085.3" y="932.6" font-size="5" text-anchor="middle">0.06</text>
<text transform="translate(1040.5,970.2) rotate(-90)" text-anchor="middle" font-size="7" font-weight="bold">Aire / tejido</text>
<path d="M1167.1,926.2V1013.3H1231M1165.6,926.2h1.5M1165.6,943.6h1.5M1165.6,961h1.5M1165.6,978.5h1.5M1165.6,995.9h1.5M1165.6,1013.3h1.5" stroke="#000" stroke-width=".5" fill="none"/>
<g font-size="5.5" text-anchor="end"><text x="1164.5" y="928.2">100</text><text x="1164.5" y="945.6">80</text><text x="1164.5" y="963">60</text><text x="1164.5" y="980.5">40</text><text x="1164.5" y="997.9">20</text><text x="1164.5" y="1015.3">0</text></g>
<rect x="1171" y="973.7" width="13.8" height="39.6" fill="#b2e0ae" stroke="#1ba51b" stroke-width=".8"/>
<rect x="1192.4" y="952.8" width="13.8" height="60.5" fill="#f9a3a3" stroke="#ec4040" stroke-width=".8"/>
<rect x="1213.7" y="952.3" width="13.8" height="61" fill="#c3c3fb" stroke="#1a1ae0" stroke-width=".8"/>
<path d="M1177.9,970.2V973.7M1175.9,970.2h4" stroke="#1ba51b" stroke-width=".8"/>
<path d="M1199.3,946.2V952.8M1197.3,946.2h4" stroke="#ec4040" stroke-width=".8"/>
<path d="M1220.6,942.8V952.3M1218.6,942.8h4" stroke="#1a1ae0" stroke-width=".8"/>
<path d="M1178.9,931.5H1218.4" stroke="#000" stroke-width=".5"/>
<text x="1198.6" y="928.3" font-size="5" text-anchor="middle">0.1</text>
<text transform="translate(1149,969.6) rotate(-90)" text-anchor="middle" font-size="6.5" font-weight="bold">Espesor tabique alveolar (μm)</text>

<!-- ================= FIG 7 BOX ================= -->
<rect x="757.2" y="193.9" width="486.8" height="367.7" fill="#fff" stroke="#3035b0" stroke-width="1.3"/>
<g font-size="8.5" font-weight="bold" text-anchor="middle"><text x="819.6" y="206.3">Control</text><text x="904.3" y="206.3">ARDSNet</text><text x="989.1" y="206.3">OLA</text>
<text transform="translate(770.8,251.2) rotate(-90)">Ventilación</text><text transform="translate(770.8,332.6) rotate(-90)">Perfusión</text><text transform="translate(770.8,414.1) rotate(-90)">Mapa V/Q</text></g>
<g font-size="4.3" fill="#666" text-anchor="middle">
<text x="780.5" y="219.3">0</text><text x="779.6" y="244.8">50</text><text x="778.3" y="269.9">100</text>
<text x="787.6" y="291.5">0</text><text x="814.8" y="291.5">50</text><text x="841.3" y="291.5">100</text>
<text x="866.9" y="219.3">0</text><text x="866.9" y="244.8">0</text><text x="866.9" y="269.9">0</text>
<text x="873.3" y="291.5">0</text><text x="898.9" y="291.5">50</text><text x="923.8" y="291.5">100</text>
<text x="947.5" y="219.3">0</text><text x="947.5" y="244.8">50</text><text x="946.5" y="269.9">100</text>
<text x="954.9" y="291.5">0</text><text x="981.1" y="291.5">50</text><text x="1007" y="291.5">100</text>
<text x="780.5" y="301.5">0</text><text x="779.6" y="327.2">50</text><text x="779.6" y="352.1">00</text>
<text x="787.6" y="374.3">0</text><text x="814.8" y="374.3">50</text><text x="842" y="374.3">100</text>
<text x="866.9" y="301.5">0</text><text x="866.9" y="327.2">50</text><text x="865.9" y="352.1">100</text>
<text x="873.3" y="374.8">0</text><text x="898.9" y="374.8">50</text><text x="923.8" y="374.8">100</text>
<text x="947.5" y="301.5">0</text><text x="947.5" y="327.2">50</text><text x="946.5" y="352.1">100</text>
<text x="954.9" y="376.3">0</text><text x="981.1" y="376.3">50</text><text x="1007" y="376.3">100</text>
<text x="780.5" y="382.2">0</text><text x="779.6" y="407.4">50</text><text x="778.3" y="432.3">100</text>
<text x="787.6" y="454.3">0</text><text x="814.8" y="454.3">50</text><text x="841.3" y="454.3">100</text>
<text x="866.9" y="382.2">0</text><text x="866.9" y="407.4">50</text><text x="866.9" y="432.3">00</text>
<text x="873.3" y="454.3">0</text><text x="898.9" y="454.3">50</text><text x="923.8" y="454.3">100</text>
<text x="947.5" y="382.2">0</text><text x="947.5" y="407.4">50</text><text x="946.5" y="432.3">100</text>
<text x="954.9" y="454.3">0</text><text x="981.1" y="454.3">50</text><text x="1007" y="454.3">100</text>
</g>
<path d="M808,227C820,224 835,226 842,232C848,240 849,255 847,266C840,270 832,268 826,264C820,268 810,271 800,268C797,255 797,238 808,227Z" fill="url(#vg)"/>
<path d="M895,226C905,223 918,225 924,232C929,240 928,252 924,261C913,259 900,255 890,250C886,242 887,231 895,226Z" fill="url(#vg)"/>
<path d="M983,225C990,223 997,224 1001,230C1008,240 1016,250 1016,262C1010,268 1000,266 991,262C982,266 972,268 964,262C965,250 974,238 983,225Z" fill="url(#vg)"/>
<ellipse cx="822" cy="331" rx="30" ry="26" fill="url(#ph)"/>
<ellipse cx="811.6" cy="333.8" rx="14" ry="16" fill="url(#pg)"/>
<ellipse cx="834" cy="335" rx="13" ry="15" fill="url(#pg)"/>
<ellipse cx="910" cy="331" rx="20" ry="20" fill="url(#ph)"/>
<ellipse cx="902" cy="339" rx="11" ry="9" fill="url(#pg)" opacity=".7"/>
<ellipse cx="914" cy="330" rx="11" ry="12" fill="url(#pg)"/>
<ellipse cx="990" cy="331" rx="30" ry="26" fill="url(#ph)"/>
<ellipse cx="978.9" cy="333.3" rx="14" ry="15" fill="url(#pg)"/>
<ellipse cx="1001.3" cy="334.3" rx="14" ry="15" fill="url(#pg)"/>
<rect x="788.2" y="380.7" width="68.8" height="64.2" fill="#000"/>
<rect x="874" y="380.7" width="64.6" height="64.2" fill="#000"/>
<rect x="955.5" y="380.7" width="65.9" height="64.2" fill="#000"/>
<path d="M812,389.5C826,387 840,390 846,398C850,408 849,422 845,432C832,434 815,434 802,431C797,422 797,405 800,396C803,392 808,390 812,389.5Z" fill="#00e000" stroke="#0000f0" stroke-width="1.2"/>
<path d="M815,396C822,394 831,395 834,399C836,405 832,411 826,413C820,413 816,409 815,404Z" fill="#0000f0"/>
<rect x="812.2" y="424.7" width="9" height="4.2" fill="#f00000"/>
<path d="M898,388C912,386 924,390 927,400C929,410 927,420 922,424L912,426L890,424C887,418 886,400 890,393C893,390 895,388 898,388Z" fill="#00e000"/>
<path d="M897,388.5C906,387 912,390 914,395C916,402 914,408 910,410C902,413 892,414 887,412C886,402 888,392 897,388.5Z" fill="#0000f0"/>
<path d="M889.5,414.5L903,413.5L907,417L916,418L917,426L906,427L902,429L890,426Z" fill="#f00000"/>
<path d="M922,392L926,400L927,412L925,418" stroke="#0000f0" stroke-width="1" fill="none"/>
<path d="M972,395L990,392L1008,396C1013,402 1015,412 1014,420C1012,427 1006,430 998,429L990,426L982,430C975,430 969,427 967,420C966,410 968,400 972,395Z" fill="#00e000" stroke="#0000f0" stroke-width="1.3"/>
<path d="M980,386.5C988,385 996,386 1001,389C1003,396 1000,403 995,406C991,409 987,409 985,405C980,400 977,392 980,386.5Z" fill="#0000f0"/>
<rect x="967.5" y="397.5" width="1.6" height="3.2" fill="#f00000"/>
<g font-size="5.5" fill="#333"><text x="1033.9" y="229">Escala de intensidad</text><text x="1033.9" y="309.8">Escala de intensidad</text><text x="1033.3" y="395.3">Categoría V/Q</text></g>
<rect x="1033.9" y="232.7" width="8.9" height="44.3" fill="url(#cb1)"/>
<rect x="1033.9" y="314.1" width="8.9" height="45.7" fill="url(#cb2)"/>
<g font-size="4.5" fill="#333"><text x="1046.7" y="234.5">1.00</text><text x="1046.7" y="245.8">0.75</text><text x="1046.7" y="256.8">0.50</text><text x="1046.7" y="267.9">0.25</text><text x="1046.7" y="279">0.00</text>
<text x="1046.7" y="315.8">1.00</text><text x="1046.7" y="327.7">0.75</text><text x="1046.7" y="339.2">0.50</text><text x="1046.7" y="350.8">0.25</text><text x="1046.7" y="362.7">0.00</text></g>
<rect x="1033.3" y="399.3" width="8.6" height="8.2" fill="#f00000"/><rect x="1033.3" y="407.6" width="8.6" height="8.7" fill="#00e000"/><rect x="1033.3" y="416.4" width="8.6" height="8.9" fill="#0000f0"/><rect x="1033.3" y="425.5" width="8.6" height="9" fill="#000"/>
<g font-size="4.3" fill="#222"><text x="1045.1" y="404.9">Shunt</text><text x="1045.1" y="413.5">Normal</text><text x="1045.1" y="422.3">Espacio muerto</text><text x="1045.1" y="431.5">NA</text></g>
<text x="1124.4" y="218.8" font-size="10.5" textLength="110" lengthAdjust="spacingAndGlyphs"><tspan font-weight="bold">Figura 7.</tspan> Tomografía de</text>
<text x="1124.4" y="232.8" font-size="10.5" textLength="99.8" lengthAdjust="spacingAndGlyphs">impedancia eléctrica.</text>
<path d="M1137.2,325.7V448.1H1229M1135,325.7h2.2M1135,350.2h2.2M1135,374.7h2.2M1135,399.1h2.2M1135,423.6h2.2M1135,448.1h2.2" stroke="#000" stroke-width=".6" fill="none"/>
<g font-size="8.6" font-weight="bold" text-anchor="end"><text x="1133.5" y="328.7">100</text><text x="1133.5" y="353.2">80</text><text x="1133.5" y="377.7">60</text><text x="1133.5" y="402.1">40</text><text x="1133.5" y="426.6">20</text><text x="1133.5" y="451.1">0</text></g>
<rect x="1144.2" y="370.6" width="20.2" height="77.5" fill="#b2e0ae" stroke="#1ba51b" stroke-width="1.2"/>
<rect x="1174" y="403.4" width="20.5" height="44.7" fill="#f9a3a3" stroke="#ec4040" stroke-width="1.2"/>
<rect x="1204" y="387.1" width="20.5" height="61" fill="#c3c3fb" stroke="#1a1ae0" stroke-width="1.2"/>
<path d="M1154.3,364.9V370.6M1150.3,364.9h8" stroke="#1ba51b" stroke-width="1.1"/>
<path d="M1184.2,397.9V403.4M1180.2,397.9h8" stroke="#ec4040" stroke-width="1.1"/>
<path d="M1214.2,380.8V387.1M1210.2,380.8h8" stroke="#1a1ae0" stroke-width="1.1"/>
<g fill="#1fa51f"><circle cx="1154.1" cy="354.3" r="1.8"/><circle cx="1154.1" cy="363" r="1.8"/><circle cx="1154.8" cy="369.6" r="1.8"/><circle cx="1157" cy="382.5" r="1.8"/><circle cx="1151.3" cy="387.4" r="1.8"/></g>
<g fill="#e81212"><rect x="1182.5" y="382.7" width="3.4" height="3.4"/><rect x="1184.1" y="402" width="3.4" height="3.4"/><rect x="1180" y="415.3" width="3.4" height="3.4"/><rect x="1185.1" y="414.3" width="3.4" height="3.4"/><rect x="1181.9" y="397.5" width="3.4" height="3.4"/></g>
<g fill="#1515dd"><path d="M1214.3,362.7l1.9,3.3h-3.8Z"/><path d="M1214.3,373.3l1.9,3.3h-3.8Z"/><path d="M1214.3,388.6l1.9,3.3h-3.8Z"/><path d="M1216.8,402.7l1.9,3.3h-3.8Z"/><path d="M1211.4,407.1l1.9,3.3h-3.8Z"/></g>
<path d="M1154.1,330.9V325.9H1213.3V330.9M1154.1,346.2V341.2H1183.9V346.2M1186.8,346.2V341.2H1216.5V346.2" stroke="#000" stroke-width=".6" fill="none"/>
<g font-size="7" font-weight="bold" text-anchor="middle"><text x="1184.9" y="324">0.3</text><text x="1168.2" y="339.3">0.01</text><text x="1201.2" y="339.3">0.3</text></g>
<text transform="translate(1119,386.9) rotate(-90)" text-anchor="middle" font-size="10" font-weight="bold">V / Q óptimo (%)</text>
<g font-size="12.8" fill="#111">
<text x="765.8" y="474" textLength="468" lengthAdjust="spacingAndGlyphs">Imágenes &#160;representativas &#160;de &#160;TIE &#160;(V, &#160;Q &#160;y &#160;mapa &#160;V/Q) &#160;a &#160;las &#160;6 &#160;horas &#160;de &#160;VM &#160;(T3). &#160;En</text>
<text x="765.8" y="489.8" textLength="468" lengthAdjust="spacingAndGlyphs">ARDSNet se evidencia pérdida de V dorsal (colapso) y sobredistensión ventral, así como</text>
<text x="765.8" y="505.6" textLength="468" lengthAdjust="spacingAndGlyphs">reducción &#160;de &#160;la &#160;Q &#160;dorsal &#160;e &#160;inhomogeneidad &#160;ventral. &#160;Esto &#160;determina &#160;una &#160;mayor</text>
<text x="765.8" y="521.6" textLength="468" lengthAdjust="spacingAndGlyphs">heterogeneidad en el mapa V/Q de ARDSNet, con mayor porcentaje de shunt y espacio</text>
<text x="765.8" y="537.7" textLength="468" lengthAdjust="spacingAndGlyphs">muerto. En OLA la distribución de la V, Q y V/Q es más homogénea, asemejándose al</text>
<text x="765.8" y="553.5" textLength="342.3" lengthAdjust="spacingAndGlyphs">Control. ARDSNet fue la estrategia con menor % de V/Q óptimo.</text>
</g>

<!-- ================= HEMODINAMICO BOX ================= -->
<rect x="757.2" y="579.3" width="486.8" height="286.5" fill="#fff" stroke="#3035b0" stroke-width="1.3"/>
<text x="773.2" y="598.1" font-size="12.5" font-weight="bold" textLength="191.3" lengthAdjust="spacingAndGlyphs">Monitoreo hemodinámico invasivo</text>
<text x="1191.6" y="595.3" font-size="11" font-weight="bold" textLength="43.8" lengthAdjust="spacingAndGlyphs">Figura 10</text>
<text x="773.2" y="614" font-size="12.5" textLength="445.6" lengthAdjust="spacingAndGlyphs">El GC se mantuvo estable en los 3 grupos (A). Con respecto a ARDSNet, OLA mostró</text>
<text x="773.2" y="630" font-size="12.5" textLength="451" lengthAdjust="spacingAndGlyphs">una tendencia a menor presión (B), resistencia (C) y elastancia (D) arterial pulmonar.</text>
<g font-size="10" font-weight="bold"><text x="767" y="658">A</text><text x="1004" y="658">B</text><text x="767" y="761.5">C</text><text x="1004" y="761.5">D</text></g>
<path d="M810,647.2V734.4H985.3M808,647.2h2M808,664.6h2M808,682.1h2M808,699.5h2M808,717h2M808,734.4h2M827.9,734.4v2M862.8,734.4v2M897.6,734.4v2M932.5,734.4v2M967.7,734.4v2" stroke="#000" stroke-width=".6" fill="none"/>
<g font-size="6.2" text-anchor="end"><text x="807" y="649.4">5</text><text x="807" y="666.8">4</text><text x="807" y="684.3">3</text><text x="807" y="701.7">2</text><text x="807" y="719.2">1</text><text x="807" y="736.6">0</text></g>
<g font-size="6.2" font-weight="bold" text-anchor="middle"><text x="827.9" y="745.5">Basal</text><text x="862.8" y="745.5">T0</text><text x="897.6" y="745.5">T1</text><text x="932.5" y="745.5">T2</text><text x="967.7" y="745.5">T3</text></g>
<text transform="translate(798.5,690.9) rotate(-90)" text-anchor="middle" font-size="7">Gasto cardíaco (L/min)</text>
<path d="M827.9,662.5V676.5M826.9,662.5h2M862.8,662.5V676.5M861.8,662.5h2M897.6,666.3V677.9M896.6,666.3h2M967.7,673.3V680.3M966.7,673.3h2" stroke="#1fa51f" stroke-width=".4" fill="none"/>
<path d="M827.9,674V684M862.8,667.1V687.3M861.8,687.3h2M897.6,675V686.6M896.6,686.6h2M932.5,669.9V685.5M931.5,669.9h2M931.5,685.5h2M967.7,671.2V685.2M966.7,671.2h2" stroke="#e81212" stroke-width=".4" fill="none"/>
<path d="M827.9,671V682.6M826.9,682.6h2M862.8,661.2V675.8M861.8,661.2h2M932.5,675V685.6M967.7,681.5V685.5M966.7,685.5h2" stroke="#1515dd" stroke-width=".4" fill="none"/>
<polyline points="827.9,676.8 862.8,668.5 897.6,674.8 932.5,680.3 967.7,683.5" fill="none" stroke="#1515dd" stroke-width="1"/>
<polyline points="827.9,679 862.8,677.2 897.6,680.8 932.5,677.7 967.7,678.2" fill="none" stroke="#e81212" stroke-width="1"/>
<polyline points="827.9,669.5 862.8,669.5 897.6,672.1 932.5,680.8 967.7,676.8" fill="none" stroke="#1fa51f" stroke-width="1"/>
<use href="#u" x="827.9" y="676.8"/><use href="#u" x="862.8" y="668.5"/><use href="#u" x="897.6" y="674.8"/><use href="#u" x="932.5" y="680.3"/><use href="#u" x="967.7" y="683.5"/>
<use href="#r" x="827.9" y="679"/><use href="#r" x="862.8" y="677.2"/><use href="#r" x="897.6" y="680.8"/><use href="#r" x="932.5" y="677.7"/><use href="#r" x="967.7" y="678.2"/>
<use href="#g" x="827.9" y="669.5"/><use href="#g" x="862.8" y="669.5"/><use href="#g" x="897.6" y="672.1"/><use href="#g" x="932.5" y="680.8"/><use href="#g" x="967.7" y="676.8"/>
<path d="M1044.1,649.7V737.3H1219.4M1042.1,649.7h2M1042.1,667.2h2M1042.1,684.7h2M1042.1,702.3h2M1042.1,719.8h2M1042.1,737.3h2M1062,737.3v2M1097.2,737.3v2M1132.1,737.3v2M1167,737.3v2M1201.8,737.3v2" stroke="#000" stroke-width=".6" fill="none"/>
<g font-size="6.2" text-anchor="end"><text x="1041" y="651.9">50</text><text x="1041" y="669.4">40</text><text x="1041" y="686.9">30</text><text x="1041" y="704.5">20</text><text x="1041" y="722">10</text><text x="1041" y="739.5">0</text></g>
<g font-size="6.2" font-weight="bold" text-anchor="middle"><text x="1062" y="748">Basal</text><text x="1097.2" y="748">T0</text><text x="1132.1" y="748">T1</text><text x="1167" y="748">T2</text><text x="1201.8" y="748">T3</text></g>
<g font-size="7" text-anchor="middle"><text transform="translate(1020.5,692.8) rotate(-90)">Presión arterial pulmonar</text><text transform="translate(1030,692.8) rotate(-90)">media (mmHg)</text></g>
<path d="M1062,697V702.2M1097.2,658.1V670.3M1096.2,658.1h2M1132.1,661.9V672.5M1131.1,661.9h2M1167,664.1V682.7M1166,664.1h2M1166,682.7h2M1201.8,661.1V676.9M1200.8,661.1h2M1200.8,676.9h2" stroke="#e81212" stroke-width=".4" fill="none"/>
<path d="M1097.2,667.2V680.6M1096.2,680.6h2M1132.1,667.4V679.6M1131.1,679.6h2M1167,668.9V679.5M1201.8,679.3V689.1M1200.8,689.1h2" stroke="#1515dd" stroke-width=".4" fill="none"/>
<path d="M1062,693V698.2M1061,693h2M1097.2,693V698.2M1132.1,687.9V697.3M1131.1,687.9h2M1131.1,697.3h2M1167,692.6V700.4M1166,700.4h2" stroke="#1fa51f" stroke-width=".4" fill="none"/>
<polyline points="1062,695.6 1097.2,695.6 1132.1,692.6 1167,696.5 1201.8,697.9" fill="none" stroke="#1fa51f" stroke-width="1"/>
<polyline points="1062,699.1 1097.2,673.9 1132.1,673.5 1167,674.2 1201.8,684.2" fill="none" stroke="#1515dd" stroke-width="1"/>
<polyline points="1062,699.6 1097.2,664.2 1132.1,667.2 1167,673.4 1201.8,669" fill="none" stroke="#e81212" stroke-width="1"/>
<use href="#g" x="1062" y="695.6"/><use href="#g" x="1097.2" y="695.6"/><use href="#g" x="1132.1" y="692.6"/><use href="#g" x="1167" y="696.5"/><use href="#g" x="1201.8" y="697.9"/>
<use href="#u" x="1062" y="699.1"/><use href="#u" x="1097.2" y="673.9"/><use href="#u" x="1132.1" y="673.5"/><use href="#u" x="1167" y="674.2"/><use href="#u" x="1201.8" y="684.2"/>
<use href="#r" x="1062" y="699.6"/><use href="#r" x="1097.2" y="664.2"/><use href="#r" x="1132.1" y="667.2"/><use href="#r" x="1167" y="673.4"/><use href="#r" x="1201.8" y="669"/>
<path d="M1209.8,668.4H1213V683.4H1209.8M1209.8,686.2H1213V699.4H1209.8M1222,668.4H1225.2V699.4H1222" stroke="#000" stroke-width=".4" fill="none"/>
<g font-size="5.5" font-weight="bold" text-anchor="middle"><text transform="translate(1216,675.9) rotate(90)" dy="1.8">0.9</text><text transform="translate(1216,692.8) rotate(90)" dy="1.8">0.09</text><text transform="translate(1228.3,684) rotate(90)" dy="1.8">0.02</text></g>
<path d="M818.3,759.8V842.3H983.7M816.3,759.8h2M816.3,776.3h2M816.3,792.8h2M816.3,809.3h2M816.3,825.8h2M816.3,842.3h2M835.2,842.3v2M868.2,842.3v2M901.1,842.3v2M934.1,842.3v2M967.3,842.3v2" stroke="#000" stroke-width=".6" fill="none"/>
<g font-size="6.2" text-anchor="end"><text x="815.3" y="762">1000</text><text x="815.3" y="778.5">800</text><text x="815.3" y="795">600</text><text x="815.3" y="811.5">400</text><text x="815.3" y="828">200</text><text x="815.3" y="844.5">0</text></g>
<g font-size="6.2" font-weight="bold" text-anchor="middle"><text x="835.2" y="852.5">Basal</text><text x="868.2" y="852.5">T0</text><text x="901.1" y="852.5">T1</text><text x="934.1" y="852.5">T2</text><text x="967.3" y="852.5">T3</text></g>
<g font-size="7" text-anchor="middle"><text transform="translate(789,800.7) rotate(-90)">Resistencia vascular</text><text transform="translate(798.5,800.7) rotate(-90)">pulmonar (dynes·sec/cm<tspan dy="-2" font-size="4.5">5</tspan><tspan dy="2">)</tspan></text></g>
<path d="M868.2,770.2V793.4M867.2,770.2h2M901.1,767.4V797.2M900.1,767.4h2M934.1,772.2V800.2M933.1,772.2h2M967.3,785.8V798.2M966.3,785.8h2" stroke="#e81212" stroke-width=".4" fill="none"/>
<path d="M835.2,819.2V828.2M834.2,819.2h2M868.2,794.4V807.6M867.2,807.6h2M901.1,784.5V801.1M900.1,801.1h2M934.1,780.8V800.6M933.1,800.6h2M967.3,792.3V808.9M966.3,808.9h2" stroke="#1515dd" stroke-width=".4" fill="none"/>
<path d="M901.1,819.6V826.2M900.1,819.6h2M934.1,817.4V824M933.1,817.4h2M967.3,818.8V823.8M966.3,818.8h2" stroke="#1fa51f" stroke-width=".4" fill="none"/>
<polyline points="835.2,826.4 868.2,826.4 901.1,822.9 934.1,820.7 967.3,821.3" fill="none" stroke="#1fa51f" stroke-width="1"/>
<polyline points="835.2,823.7 868.2,801 901.1,792.8 934.1,790.7 967.3,800.6" fill="none" stroke="#1515dd" stroke-width="1"/>
<polyline points="835.2,824.6 868.2,781.8 901.1,782.3 934.1,786.2 967.3,792" fill="none" stroke="#e81212" stroke-width="1"/>
<use href="#g" x="835.2" y="826.4"/><use href="#g" x="868.2" y="826.4"/><use href="#g" x="901.1" y="822.9"/><use href="#g" x="934.1" y="820.7"/><use href="#g" x="967.3" y="821.3"/>
<use href="#u" x="835.2" y="823.7"/><use href="#u" x="868.2" y="801"/><use href="#u" x="901.1" y="792.8"/><use href="#u" x="934.1" y="790.7"/><use href="#u" x="967.3" y="800.6"/>
<use href="#r" x="835.2" y="824.6"/><use href="#r" x="868.2" y="781.8"/><use href="#r" x="901.1" y="782.3"/><use href="#r" x="934.1" y="786.2"/><use href="#r" x="967.3" y="792"/>
<path d="M974.7,790H977.3V805.4H974.7M974.7,806.9H977.3V821.9H974.7M984.3,790H986.5V821.9H984.3" stroke="#000" stroke-width=".4" fill="none"/>
<g font-size="5.5" text-anchor="middle"><text transform="translate(980,797.7) rotate(90)" dy="1.8">0.9</text><text transform="translate(980,814.4) rotate(90)" dy="1.8">0.07</text><text transform="translate(989.5,806) rotate(90)" dy="1.8">0.01</text></g>
<path d="M1044.1,759.8V846.1H1217.8M1042.1,759.8h2M1042.1,777.1h2M1042.1,794.3h2M1042.1,811.6h2M1042.1,828.8h2M1042.1,846.1h2M1062,846.1v2M1096.9,846.1v2M1131.4,846.1v2M1166,846.1v2M1200.6,846.1v2" stroke="#000" stroke-width=".6" fill="none"/>
<g font-size="6.2" text-anchor="end"><text x="1041" y="762">2.5</text><text x="1041" y="779.3">2.0</text><text x="1041" y="796.5">1.5</text><text x="1041" y="813.8">1.0</text><text x="1041" y="831">0.5</text><text x="1041" y="848.3">0.0</text></g>
<g font-size="6.2" font-weight="bold" text-anchor="middle"><text x="1062" y="856.5">Basal</text><text x="1096.9" y="856.5">T0</text><text x="1131.4" y="856.5">T1</text><text x="1166" y="856.5">T2</text><text x="1200.6" y="856.5">T3</text></g>
<g font-size="7" text-anchor="middle"><text transform="translate(1020.5,802.5) rotate(-90)">Elastancia pulmonar</text><text transform="translate(1030,802.5) rotate(-90)">arterial (mmHg/mL)</text></g>
<path d="M1062,823V829.8M1096.9,777.8V808.8M1095.9,777.8h2M1131.4,784.7V812.3M1130.4,784.7h2M1130.4,812.3h2M1166,765V811.2M1165,765h2M1165,811.2h2M1200.6,773.6V806.8M1199.6,773.6h2M1199.6,806.8h2" stroke="#e81212" stroke-width=".4" fill="none"/>
<path d="M1096.9,807.7V814.7M1095.9,814.7h2M1131.4,802V810.2M1130.4,802h2M1166,792.6V806.4M1165,792.6h2M1200.6,802.6V813.6M1199.6,813.6h2" stroke="#1515dd" stroke-width=".4" fill="none"/>
<path d="M1062,822.9V827.9M1096.9,822.9V827.9M1095.9,822.9h2M1131.4,822.9V827.9M1130.4,822.9h2M1166,821V825.6" stroke="#1fa51f" stroke-width=".4" fill="none"/>
<polyline points="1062,825.4 1096.9,825.4 1131.4,825.4 1166,823.3 1200.6,825.4" fill="none" stroke="#1fa51f" stroke-width="1"/>
<polyline points="1062,827.1 1096.9,811.2 1131.4,806.1 1166,799.5 1200.6,808.1" fill="none" stroke="#1515dd" stroke-width="1"/>
<polyline points="1062,826.4 1096.9,793.3 1131.4,798.5 1166,788.1 1200.6,790.2" fill="none" stroke="#e81212" stroke-width="1"/>
<use href="#u" x="1062" y="827.1"/><use href="#u" x="1096.9" y="811.2"/><use href="#u" x="1131.4" y="806.1"/><use href="#u" x="1166" y="799.5"/><use href="#u" x="1200.6" y="808.1"/>
<use href="#r" x="1062" y="826.4"/><use href="#r" x="1096.9" y="793.3"/><use href="#r" x="1131.4" y="798.5"/><use href="#r" x="1166" y="788.1"/><use href="#r" x="1200.6" y="790.2"/>
<use href="#g" x="1062" y="825.4"/><use href="#g" x="1096.9" y="825.4"/><use href="#g" x="1131.4" y="825.4"/><use href="#g" x="1166" y="823.3"/><use href="#g" x="1200.6" y="825.4"/>
<path d="M1205.3,790.3H1207.9V807.2H1205.3M1205.3,808.6H1207.9V825.8H1205.3M1218.8,790.3H1221.3V825.8H1218.8" stroke="#000" stroke-width=".4" fill="none"/>
<g font-size="5.5" font-weight="bold" text-anchor="middle"><text transform="translate(1211.5,798.7) rotate(90)" dy="1.8">0.9</text><text transform="translate(1211.5,817) rotate(90)" dy="1.8">0.6</text><text transform="translate(1225,808) rotate(90)" dy="1.8">0.2</text></g>

<!-- ================= RIGHT COLUMN ================= -->
<rect x="1258.9" y="194.1" width="294.7" height="238.2" fill="none" stroke="#3035b0" stroke-width="1.3"/>
<g font-size="12.3" fill="#111">
<text x="1274.9" y="215.6" font-weight="bold" textLength="133.6" lengthAdjust="spacingAndGlyphs">Capnografía volumétrica</text>
<text x="1276.3" y="231.4">•</text>
<text x="1290" y="231.4" textLength="256.5" lengthAdjust="spacingAndGlyphs">La ventilación del espacio muerto fisiológico fue</text>
<text x="1290" y="247.4" textLength="225.8" lengthAdjust="spacingAndGlyphs">mayor en ambos grupos con SDRA &#160;que en</text>
<text x="1290" y="263.4" textLength="234" lengthAdjust="spacingAndGlyphs">Control, sin diferencia entre ARDSNet y OLA</text>
<text x="1290" y="279.5" textLength="39" lengthAdjust="spacingAndGlyphs">(<tspan font-weight="bold">Fig. 8</tspan>).</text>
</g>
<rect x="1282.4" y="294.4" width="251.4" height="126.6" fill="#fff"/>
<text x="1505.2" y="306.8" font-size="10.5" font-weight="bold" textLength="24.5" lengthAdjust="spacingAndGlyphs">Fig. 8</text>
<path d="M1323.7,307.4V401.4H1511.7M1321.7,307.4h2M1321.7,338.65h2M1321.7,369.9h2M1342.5,401.4v2M1380.1,401.4v2M1417.5,401.4v2M1455.1,401.4v2M1492.7,401.4v2" stroke="#000" stroke-width=".6" fill="none"/>
<g font-size="6.5" font-weight="bold" text-anchor="end"><text x="1320.5" y="309.6">0.6</text><text x="1320.5" y="340.9">0.5</text><text x="1320.5" y="372.1">0.4</text></g>
<g font-size="6.5" font-weight="bold" text-anchor="middle"><text x="1342.5" y="412">Basal</text><text x="1380.1" y="412">T0</text><text x="1417.5" y="412">T1</text><text x="1455.1" y="412">T2</text><text x="1492.7" y="412">T3</text></g>
<g font-size="6.8" font-weight="bold" text-anchor="middle"><text transform="translate(1296,353.8) rotate(-90)">Espacio muerto fisiológico</text><text transform="translate(1306,353.8) rotate(-90)">(Vd/Vt)</text></g>
<path d="M1342.5,349.5V362.1M1341.5,349.5h2M1380.1,317.1V340.3M1379.1,317.1h2M1379.1,340.3h2M1417.5,315.9V337.1M1416.5,315.9h2M1416.5,337.1h2M1455.1,315.9V336.5M1454.1,336.5h2M1492.7,314.6V328.4M1491.7,314.6h2" stroke="#e81212" stroke-width=".4" fill="none"/>
<path d="M1380.1,320.5V333.1M1417.5,318.3V326.5M1455.1,315.8V324M1454.1,315.8h2M1492.7,316.4V334M1491.7,334h2" stroke="#1515dd" stroke-width=".4" fill="none"/>
<path d="M1342.5,355V361M1341.5,361h2M1380.1,355V361M1379.1,355h2M1379.1,361h2M1417.5,349V355.2M1416.5,349h2M1416.5,355.2h2M1455.1,348V358.6M1454.1,348h2M1454.1,358.6h2M1492.7,355.9V362.1M1491.7,355.9h2M1491.7,362.1h2" stroke="#1fa51f" stroke-width=".4" fill="none"/>
<polyline points="1342.5,358 1380.1,358 1417.5,352.1 1455.1,353.3 1492.7,359" fill="none" stroke="#1fa51f" stroke-width=".8"/>
<polyline points="1342.5,355.2 1380.1,326.8 1417.5,322.4 1455.1,319.9 1492.7,325.2" fill="none" stroke="#1515dd" stroke-width=".8"/>
<polyline points="1342.5,355.8 1380.1,328.7 1417.5,326.5 1455.1,326.2 1492.7,321.5" fill="none" stroke="#e81212" stroke-width=".8"/>
<use href="#g" x="1342.5" y="358"/><use href="#g" x="1380.1" y="358"/><use href="#g" x="1417.5" y="352.1"/><use href="#g" x="1455.1" y="353.3"/><use href="#g" x="1492.7" y="359"/>
<use href="#u" x="1342.5" y="355.2"/><use href="#u" x="1380.1" y="326.8"/><use href="#u" x="1417.5" y="322.4"/><use href="#u" x="1455.1" y="319.9"/><use href="#u" x="1492.7" y="325.2"/>
<use href="#r" x="1342.5" y="355.8"/><use href="#r" x="1380.1" y="328.7"/><use href="#r" x="1417.5" y="326.5"/><use href="#r" x="1455.1" y="326.2"/><use href="#r" x="1492.7" y="321.5"/>
<path d="M1503.2,325.4H1506.2V359.9H1503.2" stroke="#000" stroke-width=".4" fill="none"/>
<text transform="translate(1511.3,342.6) rotate(90)" dy="1.8" font-size="5.5" font-weight="bold" text-anchor="middle">0.03</text>
<rect x="1257.9" y="451.7" width="294.3" height="260.1" fill="none" stroke="#3035b0" stroke-width="1.3"/>
<g font-size="12.3" fill="#111">
<text x="1274.3" y="473.2" font-weight="bold" textLength="82.7" lengthAdjust="spacingAndGlyphs">Ecocardiografía</text>
<text x="1276.3" y="489">•</text>
<text x="1289.2" y="489" textLength="223.1" lengthAdjust="spacingAndGlyphs">La función sistólica del ventrículo derecho</text>
<text x="1289.2" y="505" textLength="247" lengthAdjust="spacingAndGlyphs">estimada por TAPSE se mantuvo estable en los</text>
<text x="1289.2" y="521" textLength="219" lengthAdjust="spacingAndGlyphs">grupos Control y OLA, pero disminuyó en</text>
<text x="1289.2" y="536.8" textLength="90.3" lengthAdjust="spacingAndGlyphs">ARDSNet (<tspan font-weight="bold">Fig. 9</tspan>).</text>
</g>
<rect x="1286.1" y="554.2" width="242.2" height="143.5" fill="#fff"/>
<text x="1500.7" y="566.4" font-size="10.5" font-weight="bold" textLength="24.5" lengthAdjust="spacingAndGlyphs">Fig. 9</text>
<path d="M1333.5,570.9V669.6H1497M1331.5,570.9h2M1331.5,603.8h2M1331.5,636.7h2M1331.5,669.6h2" stroke="#000" stroke-width=".6" fill="none"/>
<g font-size="6.5" font-weight="bold" text-anchor="end"><text x="1330" y="573.1">20</text><text x="1330" y="606">15</text><text x="1330" y="638.9">10</text><text x="1330" y="671.8">5</text></g>
<rect x="1337" y="618.3" width="14.3" height="51.3" fill="#b2e0ae" stroke="#1ba51b" stroke-width=".9"/>
<rect x="1358.1" y="619.6" width="14.5" height="50" fill="#b2e0ae" stroke="#1ba51b" stroke-width=".9"/>
<rect x="1397.3" y="609.7" width="14.3" height="59.9" fill="#f9a3a3" stroke="#ec4040" stroke-width=".9"/>
<rect x="1418.5" y="640" width="14.6" height="29.6" fill="#f9a3a3" stroke="#ec4040" stroke-width=".9"/>
<rect x="1458" y="616.3" width="14.3" height="53.3" fill="#c3c3fb" stroke="#1a1ae0" stroke-width=".9"/>
<rect x="1479" y="626.2" width="14.5" height="43.4" fill="#c3c3fb" stroke="#1a1ae0" stroke-width=".9"/>
<path d="M1344.2,616.3V618.3M1341.2,616.3h6M1365.4,617.6V619.6M1362.4,617.6h6" stroke="#1ba51b" stroke-width=".9"/>
<path d="M1404.5,601.8V609.7M1401.5,601.8h6M1425.8,631.4V640M1422.8,631.4h6" stroke="#ec4040" stroke-width=".9"/>
<path d="M1465.2,611.7V616.3M1462.2,611.7h6M1486.3,623.5V626.2M1483.3,623.5h6" stroke="#1a1ae0" stroke-width=".9"/>
<g font-size="6.3" font-weight="bold" text-anchor="end">
<text transform="translate(1351,676) rotate(-25)">Basal</text><text transform="translate(1370,675) rotate(-25)">T3</text>
<text transform="translate(1411,676) rotate(-25)">Basal</text><text transform="translate(1431,675) rotate(-25)">T3</text>
<text transform="translate(1472,676) rotate(-25)">Basal</text><text transform="translate(1492,675) rotate(-25)">T3</text>
</g>
<path d="M1344.2,591.3H1364.8M1403.4,591.3H1424.5M1463.9,591.3H1485" stroke="#000" stroke-width=".5"/>
<g font-size="5.5" font-weight="bold" text-anchor="middle"><text x="1354.5" y="588.5">0.5</text><text x="1414" y="588.5">0.01</text><text x="1474.5" y="588.5">0.2</text></g>
<text transform="translate(1317,620) rotate(-90)" text-anchor="middle" font-size="6.8" font-weight="bold">TAPSE (mm)</text>
<rect x="1258.9" y="723.5" width="294.7" height="139.1" fill="none" stroke="#3035b0" stroke-width="1.3"/>
<g font-size="12.3" fill="#111">
<text x="1275.3" y="745" font-weight="bold" textLength="93" lengthAdjust="spacingAndGlyphs">Edema pulmonar</text>
<text x="1275.3" y="760.8" textLength="85.8" lengthAdjust="spacingAndGlyphs">La relación peso</text>
<text x="1275.3" y="776.6" textLength="107.9" lengthAdjust="spacingAndGlyphs">húmedo / peso seco</text>
<text x="1275.3" y="792.3" textLength="109.3" lengthAdjust="spacingAndGlyphs">pulmonar fue mayor</text>
<text x="1275.3" y="808.1" textLength="113.8" lengthAdjust="spacingAndGlyphs">en ambos grupos con</text>
<text x="1275.3" y="823.9" textLength="80.7" lengthAdjust="spacingAndGlyphs">SDRA que en el</text>
<text x="1275.3" y="839.7" textLength="88.5" lengthAdjust="spacingAndGlyphs">Control (<tspan font-weight="bold">Fig. 11</tspan>).</text>
</g>
<rect x="1411.6" y="729" width="116.7" height="127.6" fill="#fff"/>
<text x="1491.3" y="741.9" font-size="10" font-weight="bold" textLength="30.2" lengthAdjust="spacingAndGlyphs">Fig. 11</text>
<path d="M1444.9,743.3V849.4H1523M1442.9,743.3h2M1442.9,778.7h2M1442.9,814h2M1442.9,849.4h2" stroke="#000" stroke-width=".6" fill="none"/>
<g font-size="6.5" font-weight="bold" text-anchor="end"><text x="1441.5" y="745.5">15</text><text x="1441.5" y="780.9">10</text><text x="1441.5" y="816.2">5</text><text x="1441.5" y="851.6">0</text></g>
<rect x="1449" y="804.1" width="17.8" height="45.3" fill="#b2e0ae" stroke="#1ba51b" stroke-width=".9"/>
<rect x="1475" y="782.9" width="17.5" height="66.5" fill="#f9a3a3" stroke="#ec4040" stroke-width=".9"/>
<rect x="1501.1" y="784.7" width="17.6" height="64.7" fill="#c3c3fb" stroke="#1a1ae0" stroke-width=".9"/>
<path d="M1457.9,802.7V804.1M1454.9,802.7h6" stroke="#1ba51b" stroke-width=".9"/>
<path d="M1483.8,781.5V782.9M1480.8,781.5h6" stroke="#ec4040" stroke-width=".9"/>
<path d="M1509.9,782.2V784.7M1506.9,782.2h6" stroke="#1a1ae0" stroke-width=".9"/>
<path d="M1457.2,755.1V752.2H1496.4V755.1M1485.2,769.4H1507.8" stroke="#000" stroke-width=".5" fill="none"/>
<g font-size="5.5" font-weight="bold" text-anchor="middle"><text x="1476.8" y="749.8">0.001</text><text x="1496.5" y="767">0.9</text></g>
<text transform="translate(1426,795.8) rotate(-90)" text-anchor="middle" font-size="6.8" font-weight="bold">Peso húmedo/peso seco</text>
<rect x="1258.3" y="870.3" width="306.4" height="179.2" fill="#15294b"/>
<text x="1267.5" y="901.9" font-size="26.5" fill="#fff" textLength="156.4" lengthAdjust="spacingAndGlyphs">Conclusiones</text>
<rect x="1257.5" y="912.8" width="231.3" height="8.6" fill="#c8c8c8"/>
<g font-size="11.8" font-weight="bold" fill="#fff">
<text x="1269.6" y="946.3" textLength="280.5" lengthAdjust="spacingAndGlyphs">La estrategia OLA se asoció a mejor intercambio</text>
<text x="1269.6" y="963.5" textLength="280.5" lengthAdjust="spacingAndGlyphs">gaseoso, &#160;relación &#160;V/Q &#160;y &#160;mecánica &#160;ventilatoria;</text>
<text x="1269.6" y="980.1" textLength="280.5" lengthAdjust="spacingAndGlyphs">así &#160;como &#160;menor &#160;lesión &#160;pulmonar &#160;histológica</text>
<text x="1269.6" y="997.1" textLength="280.5" lengthAdjust="spacingAndGlyphs">que &#160;&#160;&#160;&#160;ARDSNet. &#160;&#160;&#160;&#160;Asimismo, &#160;&#160;&#160;&#160;presentó &#160;&#160;&#160;&#160;menor</text>
<text x="1269.6" y="1013.7" textLength="280.5" lengthAdjust="spacingAndGlyphs">repercusión sobre la hemodinamia pulmonar y</text>
<text x="1269.6" y="1030.6" textLength="176.3" lengthAdjust="spacingAndGlyphs">la función ventricular derecha.</text>
</g>
</svg>
</body></html>
